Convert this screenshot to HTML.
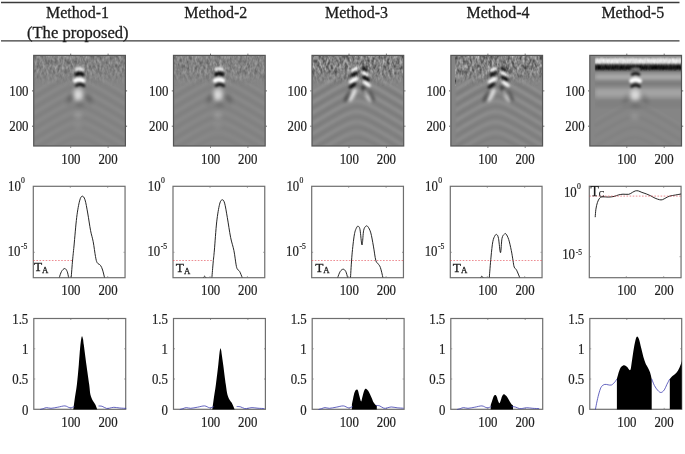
<!DOCTYPE html>
<html lang="en"><head><meta charset="utf-8"><title>Method comparison</title>
<style>
html,body{margin:0;padding:0;background:#fff}
body{width:685px;height:454px;overflow:hidden}
svg{display:block}
text{font-family:"Liberation Serif","Times New Roman",serif;fill:#1c1c1c;stroke:#1c1c1c;stroke-width:0.28px}
.h{font-size:15.8px;text-anchor:middle}
.t{font-size:14.2px;stroke-width:0.2px}
.m{text-anchor:middle}
.e{text-anchor:end}
</style></head><body>
<svg width="685" height="454" viewBox="0 0 685 454">
<defs>
<filter id="b0" filterUnits="userSpaceOnUse" x="0" y="40" width="685" height="120"><feGaussianBlur stdDeviation="0.8"/></filter>
<filter id="nz" x="0" y="0" width="100%" height="100%" color-interpolation-filters="sRGB"><feTurbulence type="fractalNoise" baseFrequency="0.4 0.2" numOctaves="2" seed="7" result="n"/><feColorMatrix type="matrix" values="1.1 0 0 0 -0.055  1.1 0 0 0 -0.055  1.1 0 0 0 -0.055  0 0 0 0 1"/><feGaussianBlur stdDeviation="0.45"/></filter>
<filter id="b15" filterUnits="userSpaceOnUse" x="0" y="40" width="685" height="120"><feGaussianBlur stdDeviation="1.5"/></filter>
<filter id="b1" filterUnits="userSpaceOnUse" x="0" y="40" width="685" height="120"><feGaussianBlur stdDeviation="1.1"/></filter>
<filter id="b2" filterUnits="userSpaceOnUse" x="0" y="40" width="685" height="120"><feGaussianBlur stdDeviation="2"/></filter>
<clipPath id="c0"><rect x="33.70" y="55.40" width="91.70" height="90.60"/></clipPath>
<clipPath id="d0"><rect x="33.30" y="186.30" width="91.75" height="91.40"/></clipPath>
<clipPath id="e0"><rect x="33.80" y="318.50" width="91.90" height="90.80"/></clipPath>
<clipPath id="c1"><rect x="173.50" y="55.40" width="91.70" height="90.60"/></clipPath>
<clipPath id="d1"><rect x="173.00" y="186.30" width="91.75" height="91.40"/></clipPath>
<clipPath id="e1"><rect x="173.50" y="318.50" width="91.90" height="90.80"/></clipPath>
<clipPath id="c2"><rect x="312.00" y="55.40" width="91.70" height="90.60"/></clipPath>
<clipPath id="d2"><rect x="311.70" y="186.30" width="91.75" height="91.40"/></clipPath>
<clipPath id="e2"><rect x="312.20" y="318.50" width="91.90" height="90.80"/></clipPath>
<clipPath id="c3"><rect x="450.85" y="55.40" width="91.70" height="90.60"/></clipPath>
<clipPath id="d3"><rect x="450.30" y="186.30" width="91.75" height="91.40"/></clipPath>
<clipPath id="e3"><rect x="450.80" y="318.50" width="91.90" height="90.80"/></clipPath>
<clipPath id="c4"><rect x="589.80" y="55.40" width="91.70" height="90.60"/></clipPath>
<clipPath id="d4"><rect x="589.30" y="186.30" width="91.75" height="91.40"/></clipPath>
<clipPath id="e4"><rect x="589.80" y="318.50" width="91.90" height="90.80"/></clipPath>
<linearGradient id="fd" gradientUnits="userSpaceOnUse" x1="0" y1="55.4" x2="0" y2="85.4"><stop offset="0" stop-color="#858585" stop-opacity="0"/><stop offset="0.45" stop-color="#858585" stop-opacity="0"/><stop offset="1" stop-color="#858585" stop-opacity="1"/></linearGradient>
<clipPath id="c5b"><rect x="594.8" y="55.4" width="86.7" height="90.6"/></clipPath>
</defs>
<rect width="685" height="454" fill="#fff"/>
<line x1="1" y1="2.5" x2="679.5" y2="2.5" stroke="#3a3a3a" stroke-width="1.4"/>
<line x1="1" y1="40.9" x2="679.5" y2="40.9" stroke="#3a3a3a" stroke-width="1.4"/>
<text x="77.5" y="17.6" class="h" textLength="62.9" lengthAdjust="spacingAndGlyphs">Method-1</text>
<text x="215.8" y="17.6" class="h" textLength="62.9" lengthAdjust="spacingAndGlyphs">Method-2</text>
<text x="356.5" y="17.6" class="h" textLength="62.9" lengthAdjust="spacingAndGlyphs">Method-3</text>
<text x="498.0" y="17.6" class="h" textLength="62.9" lengthAdjust="spacingAndGlyphs">Method-4</text>
<text x="632.9" y="17.6" class="h" textLength="62.9" lengthAdjust="spacingAndGlyphs">Method-5</text>
<text x="77.8" y="37.6" class="h" textLength="101.6" lengthAdjust="spacingAndGlyphs">(The proposed)</text>
<g clip-path="url(#c0)">
<rect x="33.7" y="55.4" width="91.7" height="90.6" fill="#858585"/>
<rect x="33.7" y="55.4" width="91.7" height="30" filter="url(#nz)" opacity="0.34"/>
<rect x="33.7" y="55.4" width="91.7" height="30.5" fill="url(#fd)"/>
<polyline points="33.7,92.4 36.0,91.0 38.3,89.6 40.6,88.3 42.9,86.9 45.2,85.5 47.5,84.2 49.7,82.8 52.0,81.5 54.3,80.1 56.6,78.8 58.9,77.5 61.2,76.3 63.5,75.1 65.8,73.9 68.1,72.8 70.4,71.8 72.7,71.0 75.0,70.4 77.3,70.0 79.6,70.0 81.8,70.3 84.1,70.9 86.4,71.8 88.7,72.7 91.0,73.8 93.3,75.0 95.6,76.2 97.9,77.4 100.2,78.7 102.5,80.0 104.8,81.4 107.1,82.7 109.4,84.0 111.6,85.4 113.9,86.8 116.2,88.1 118.5,89.5 120.8,90.9 123.1,92.3 125.4,93.7" fill="none" stroke="#fff" stroke-width="1.6" opacity="0.07" filter="url(#b0)"/>
<polyline points="33.7,97.6 36.0,96.2 38.3,94.8 40.6,93.5 42.9,92.1 45.2,90.7 47.5,89.4 49.7,88.0 52.0,86.7 54.3,85.3 56.6,84.0 58.9,82.7 61.2,81.5 63.5,80.3 65.8,79.1 68.1,78.0 70.4,77.0 72.7,76.2 75.0,75.6 77.3,75.2 79.6,75.2 81.8,75.5 84.1,76.1 86.4,77.0 88.7,77.9 91.0,79.0 93.3,80.2 95.6,81.4 97.9,82.6 100.2,83.9 102.5,85.2 104.8,86.6 107.1,87.9 109.4,89.2 111.6,90.6 113.9,92.0 116.2,93.3 118.5,94.7 120.8,96.1 123.1,97.5 125.4,98.9" fill="none" stroke="#000" stroke-width="1.6" opacity="0.06" filter="url(#b0)"/>
<polyline points="33.7,102.8 36.0,101.4 38.3,100.0 40.6,98.7 42.9,97.3 45.2,95.9 47.5,94.6 49.7,93.2 52.0,91.9 54.3,90.5 56.6,89.2 58.9,87.9 61.2,86.7 63.5,85.5 65.8,84.3 68.1,83.2 70.4,82.2 72.7,81.4 75.0,80.8 77.3,80.4 79.6,80.4 81.8,80.7 84.1,81.3 86.4,82.2 88.7,83.1 91.0,84.2 93.3,85.4 95.6,86.6 97.9,87.8 100.2,89.1 102.5,90.4 104.8,91.8 107.1,93.1 109.4,94.4 111.6,95.8 113.9,97.2 116.2,98.5 118.5,99.9 120.8,101.3 123.1,102.7 125.4,104.1" fill="none" stroke="#fff" stroke-width="1.6" opacity="0.06" filter="url(#b0)"/>
<polyline points="33.7,108.0 36.0,106.6 38.3,105.2 40.6,103.9 42.9,102.5 45.2,101.1 47.5,99.8 49.7,98.4 52.0,97.1 54.3,95.7 56.6,94.4 58.9,93.1 61.2,91.9 63.5,90.7 65.8,89.5 68.1,88.4 70.4,87.4 72.7,86.6 75.0,86.0 77.3,85.6 79.6,85.6 81.8,85.9 84.1,86.5 86.4,87.4 88.7,88.3 91.0,89.4 93.3,90.6 95.6,91.8 97.9,93.0 100.2,94.3 102.5,95.6 104.8,97.0 107.1,98.3 109.4,99.6 111.6,101.0 113.9,102.4 116.2,103.7 118.5,105.1 120.8,106.5 123.1,107.9 125.4,109.3" fill="none" stroke="#000" stroke-width="1.6" opacity="0.06" filter="url(#b0)"/>
<polyline points="33.7,113.2 36.0,111.8 38.3,110.4 40.6,109.1 42.9,107.7 45.2,106.3 47.5,105.0 49.7,103.6 52.0,102.3 54.3,100.9 56.6,99.6 58.9,98.3 61.2,97.1 63.5,95.9 65.8,94.7 68.1,93.6 70.4,92.6 72.7,91.8 75.0,91.2 77.3,90.8 79.6,90.8 81.8,91.1 84.1,91.7 86.4,92.6 88.7,93.5 91.0,94.6 93.3,95.8 95.6,97.0 97.9,98.2 100.2,99.5 102.5,100.8 104.8,102.2 107.1,103.5 109.4,104.8 111.6,106.2 113.9,107.6 116.2,108.9 118.5,110.3 120.8,111.7 123.1,113.1 125.4,114.5" fill="none" stroke="#fff" stroke-width="1.6" opacity="0.06" filter="url(#b0)"/>
<polyline points="33.7,118.4 36.0,117.0 38.3,115.6 40.6,114.3 42.9,112.9 45.2,111.5 47.5,110.2 49.7,108.8 52.0,107.5 54.3,106.1 56.6,104.8 58.9,103.5 61.2,102.3 63.5,101.1 65.8,99.9 68.1,98.8 70.4,97.8 72.7,97.0 75.0,96.4 77.3,96.0 79.6,96.0 81.8,96.3 84.1,96.9 86.4,97.8 88.7,98.7 91.0,99.8 93.3,101.0 95.6,102.2 97.9,103.4 100.2,104.7 102.5,106.0 104.8,107.4 107.1,108.7 109.4,110.0 111.6,111.4 113.9,112.8 116.2,114.1 118.5,115.5 120.8,116.9 123.1,118.3 125.4,119.7" fill="none" stroke="#000" stroke-width="1.6" opacity="0.06" filter="url(#b0)"/>
<polyline points="33.7,123.6 36.0,122.2 38.3,120.8 40.6,119.5 42.9,118.1 45.2,116.7 47.5,115.4 49.7,114.0 52.0,112.7 54.3,111.3 56.6,110.0 58.9,108.7 61.2,107.5 63.5,106.3 65.8,105.1 68.1,104.0 70.4,103.0 72.7,102.2 75.0,101.6 77.3,101.2 79.6,101.2 81.8,101.5 84.1,102.1 86.4,103.0 88.7,103.9 91.0,105.0 93.3,106.2 95.6,107.4 97.9,108.6 100.2,109.9 102.5,111.2 104.8,112.6 107.1,113.9 109.4,115.2 111.6,116.6 113.9,118.0 116.2,119.3 118.5,120.7 120.8,122.1 123.1,123.5 125.4,124.9" fill="none" stroke="#fff" stroke-width="1.6" opacity="0.05" filter="url(#b0)"/>
<polyline points="33.7,128.8 36.0,127.4 38.3,126.0 40.6,124.7 42.9,123.3 45.2,121.9 47.5,120.6 49.7,119.2 52.0,117.9 54.3,116.5 56.6,115.2 58.9,113.9 61.2,112.7 63.5,111.5 65.8,110.3 68.1,109.2 70.4,108.2 72.7,107.4 75.0,106.8 77.3,106.4 79.6,106.4 81.8,106.7 84.1,107.3 86.4,108.2 88.7,109.1 91.0,110.2 93.3,111.4 95.6,112.6 97.9,113.8 100.2,115.1 102.5,116.4 104.8,117.8 107.1,119.1 109.4,120.4 111.6,121.8 113.9,123.2 116.2,124.5 118.5,125.9 120.8,127.3 123.1,128.7 125.4,130.1" fill="none" stroke="#000" stroke-width="1.6" opacity="0.05" filter="url(#b0)"/>
<polyline points="33.7,134.0 36.0,132.6 38.3,131.2 40.6,129.9 42.9,128.5 45.2,127.1 47.5,125.8 49.7,124.4 52.0,123.1 54.3,121.7 56.6,120.4 58.9,119.1 61.2,117.9 63.5,116.7 65.8,115.5 68.1,114.4 70.4,113.4 72.7,112.6 75.0,112.0 77.3,111.6 79.6,111.6 81.8,111.9 84.1,112.5 86.4,113.4 88.7,114.3 91.0,115.4 93.3,116.6 95.6,117.8 97.9,119.0 100.2,120.3 102.5,121.6 104.8,123.0 107.1,124.3 109.4,125.6 111.6,127.0 113.9,128.4 116.2,129.7 118.5,131.1 120.8,132.5 123.1,133.9 125.4,135.3" fill="none" stroke="#fff" stroke-width="1.6" opacity="0.05" filter="url(#b0)"/>
<polyline points="33.7,139.2 36.0,137.8 38.3,136.4 40.6,135.1 42.9,133.7 45.2,132.3 47.5,131.0 49.7,129.6 52.0,128.3 54.3,126.9 56.6,125.6 58.9,124.3 61.2,123.1 63.5,121.9 65.8,120.7 68.1,119.6 70.4,118.6 72.7,117.8 75.0,117.2 77.3,116.8 79.6,116.8 81.8,117.1 84.1,117.7 86.4,118.6 88.7,119.5 91.0,120.6 93.3,121.8 95.6,123.0 97.9,124.2 100.2,125.5 102.5,126.8 104.8,128.2 107.1,129.5 109.4,130.8 111.6,132.2 113.9,133.6 116.2,134.9 118.5,136.3 120.8,137.7 123.1,139.1 125.4,140.5" fill="none" stroke="#000" stroke-width="1.6" opacity="0.05" filter="url(#b0)"/>
<polyline points="33.7,144.4 36.0,143.0 38.3,141.6 40.6,140.3 42.9,138.9 45.2,137.5 47.5,136.2 49.7,134.8 52.0,133.5 54.3,132.1 56.6,130.8 58.9,129.5 61.2,128.3 63.5,127.1 65.8,125.9 68.1,124.8 70.4,123.8 72.7,123.0 75.0,122.4 77.3,122.0 79.6,122.0 81.8,122.3 84.1,122.9 86.4,123.8 88.7,124.7 91.0,125.8 93.3,127.0 95.6,128.2 97.9,129.4 100.2,130.7 102.5,132.0 104.8,133.4 107.1,134.7 109.4,136.0 111.6,137.4 113.9,138.8 116.2,140.1 118.5,141.5 120.8,142.9 123.1,144.3 125.4,145.7" fill="none" stroke="#fff" stroke-width="1.6" opacity="0.05" filter="url(#b0)"/>
<polyline points="33.7,149.6 36.0,148.2 38.3,146.8 40.6,145.5 42.9,144.1 45.2,142.7 47.5,141.4 49.7,140.0 52.0,138.7 54.3,137.3 56.6,136.0 58.9,134.7 61.2,133.5 63.5,132.3 65.8,131.1 68.1,130.0 70.4,129.0 72.7,128.2 75.0,127.6 77.3,127.2 79.6,127.2 81.8,127.5 84.1,128.1 86.4,129.0 88.7,129.9 91.0,131.0 93.3,132.2 95.6,133.4 97.9,134.6 100.2,135.9 102.5,137.2 104.8,138.6 107.1,139.9 109.4,141.2 111.6,142.6 113.9,144.0 116.2,145.3 118.5,146.7 120.8,148.1 123.1,149.5 125.4,150.9" fill="none" stroke="#000" stroke-width="1.6" opacity="0.04" filter="url(#b0)"/>
<polyline points="33.7,154.8 36.0,153.4 38.3,152.0 40.6,150.7 42.9,149.3 45.2,147.9 47.5,146.6 49.7,145.2 52.0,143.9 54.3,142.5 56.6,141.2 58.9,139.9 61.2,138.7 63.5,137.5 65.8,136.3 68.1,135.2 70.4,134.2 72.7,133.4 75.0,132.8 77.3,132.4 79.6,132.4 81.8,132.7 84.1,133.3 86.4,134.2 88.7,135.1 91.0,136.2 93.3,137.4 95.6,138.6 97.9,139.8 100.2,141.1 102.5,142.4 104.8,143.8 107.1,145.1 109.4,146.4 111.6,147.8 113.9,149.2 116.2,150.5 118.5,151.9 120.8,153.3 123.1,154.7 125.4,156.1" fill="none" stroke="#fff" stroke-width="1.6" opacity="0.04" filter="url(#b0)"/>
<polyline points="33.7,160.0 36.0,158.6 38.3,157.2 40.6,155.9 42.9,154.5 45.2,153.1 47.5,151.8 49.7,150.4 52.0,149.1 54.3,147.7 56.6,146.4 58.9,145.1 61.2,143.9 63.5,142.7 65.8,141.5 68.1,140.4 70.4,139.4 72.7,138.6 75.0,138.0 77.3,137.6 79.6,137.6 81.8,137.9 84.1,138.5 86.4,139.4 88.7,140.3 91.0,141.4 93.3,142.6 95.6,143.8 97.9,145.0 100.2,146.3 102.5,147.6 104.8,149.0 107.1,150.3 109.4,151.6 111.6,153.0 113.9,154.4 116.2,155.7 118.5,157.1 120.8,158.5 123.1,159.9 125.4,161.3" fill="none" stroke="#000" stroke-width="1.6" opacity="0.04" filter="url(#b0)"/>
<path d="M76.3 69.5 Q79.5 67.6 82.7 69.5" fill="none" stroke="#fff" stroke-width="3.0" stroke-linecap="round" opacity="0.85" filter="url(#b1)"/>
<path d="M76.1 74.6 Q79.5 72.5 82.9 74.6" fill="none" stroke="#000" stroke-width="3.0" stroke-linecap="round" opacity="1.00" filter="url(#b1)"/>
<path d="M75.2 80.6 Q79.2 78.0 83.2 80.6" fill="none" stroke="#fff" stroke-width="4.2" stroke-linecap="round" opacity="1.00" filter="url(#b1)"/>
<path d="M76.3 85.8 Q80.1 83.2 83.9 85.8" fill="none" stroke="#000" stroke-width="2.8" stroke-linecap="round" opacity="0.85" filter="url(#b1)"/>
<ellipse cx="78.3" cy="89.8" rx="4.0" ry="2.5" fill="#fff" opacity="0.30" filter="url(#b2)"/>
<ellipse cx="78.1" cy="95.2" rx="5.0" ry="5.4" fill="#fff" opacity="0.70" filter="url(#b2)"/>
<ellipse cx="70.0" cy="98.8" rx="2.0" ry="5.5" transform="rotate(25 70.0 98.8)" fill="#000" opacity="0.28" filter="url(#b2)"/>
<ellipse cx="89.0" cy="98.8" rx="2.0" ry="5.5" transform="rotate(-25 89.0 98.8)" fill="#000" opacity="0.28" filter="url(#b2)"/>
<ellipse cx="80.0" cy="104.6" rx="4.5" ry="2.0" fill="#000" opacity="0.20" filter="url(#b2)"/>
<ellipse cx="78.1" cy="115.3" rx="4.0" ry="2.6" fill="#fff" opacity="0.22" filter="url(#b2)"/>
<ellipse cx="77.9" cy="125.8" rx="3.5" ry="2.2" fill="#fff" opacity="0.10" filter="url(#b2)"/>
</g>
<rect x="33.70" y="55.40" width="91.70" height="90.60" fill="none" stroke="#555" stroke-width="1.2"/>
<path d="M70.7 54.8v-1.1M70.7 146.6v1.1" stroke="#444" stroke-width="0.9"/>
<path d="M108.1 54.8v-1.1M108.1 146.6v1.1" stroke="#444" stroke-width="0.9"/>
<path d="M33.1 90.9h-1.1M126.0 90.9h1.1" stroke="#444" stroke-width="0.9"/>
<path d="M33.1 126.2h-1.1M126.0 126.2h1.1" stroke="#444" stroke-width="0.9"/>
<text transform="translate(28.5 95.5) scale(0.905 1)" class="t e">100</text>
<text transform="translate(28.5 131.0) scale(0.905 1)" class="t e">200</text>
<text transform="translate(70.9 164.0) scale(0.905 1)" class="t m">100</text>
<text transform="translate(108.0 164.0) scale(0.905 1)" class="t m">200</text>
<g clip-path="url(#c1)">
<rect x="173.5" y="55.4" width="91.7" height="90.6" fill="#858585"/>
<rect x="173.5" y="55.4" width="91.7" height="30" filter="url(#nz)" opacity="0.34"/>
<rect x="173.5" y="55.4" width="91.7" height="30.5" fill="url(#fd)"/>
<polyline points="173.5,92.4 175.8,91.0 178.1,89.6 180.4,88.3 182.7,86.9 185.0,85.5 187.3,84.2 189.5,82.8 191.8,81.5 194.1,80.1 196.4,78.8 198.7,77.5 201.0,76.3 203.3,75.1 205.6,73.9 207.9,72.8 210.2,71.8 212.5,71.0 214.8,70.4 217.1,70.0 219.3,70.0 221.6,70.3 223.9,70.9 226.2,71.8 228.5,72.7 230.8,73.8 233.1,75.0 235.4,76.2 237.7,77.4 240.0,78.7 242.3,80.0 244.6,81.4 246.9,82.7 249.2,84.0 251.4,85.4 253.7,86.8 256.0,88.1 258.3,89.5 260.6,90.9 262.9,92.3 265.2,93.7" fill="none" stroke="#fff" stroke-width="1.6" opacity="0.07" filter="url(#b0)"/>
<polyline points="173.5,97.6 175.8,96.2 178.1,94.8 180.4,93.5 182.7,92.1 185.0,90.7 187.3,89.4 189.5,88.0 191.8,86.7 194.1,85.3 196.4,84.0 198.7,82.7 201.0,81.5 203.3,80.3 205.6,79.1 207.9,78.0 210.2,77.0 212.5,76.2 214.8,75.6 217.1,75.2 219.3,75.2 221.6,75.5 223.9,76.1 226.2,77.0 228.5,77.9 230.8,79.0 233.1,80.2 235.4,81.4 237.7,82.6 240.0,83.9 242.3,85.2 244.6,86.6 246.9,87.9 249.2,89.2 251.4,90.6 253.7,92.0 256.0,93.3 258.3,94.7 260.6,96.1 262.9,97.5 265.2,98.9" fill="none" stroke="#000" stroke-width="1.6" opacity="0.06" filter="url(#b0)"/>
<polyline points="173.5,102.8 175.8,101.4 178.1,100.0 180.4,98.7 182.7,97.3 185.0,95.9 187.3,94.6 189.5,93.2 191.8,91.9 194.1,90.5 196.4,89.2 198.7,87.9 201.0,86.7 203.3,85.5 205.6,84.3 207.9,83.2 210.2,82.2 212.5,81.4 214.8,80.8 217.1,80.4 219.3,80.4 221.6,80.7 223.9,81.3 226.2,82.2 228.5,83.1 230.8,84.2 233.1,85.4 235.4,86.6 237.7,87.8 240.0,89.1 242.3,90.4 244.6,91.8 246.9,93.1 249.2,94.4 251.4,95.8 253.7,97.2 256.0,98.5 258.3,99.9 260.6,101.3 262.9,102.7 265.2,104.1" fill="none" stroke="#fff" stroke-width="1.6" opacity="0.06" filter="url(#b0)"/>
<polyline points="173.5,108.0 175.8,106.6 178.1,105.2 180.4,103.9 182.7,102.5 185.0,101.1 187.3,99.8 189.5,98.4 191.8,97.1 194.1,95.7 196.4,94.4 198.7,93.1 201.0,91.9 203.3,90.7 205.6,89.5 207.9,88.4 210.2,87.4 212.5,86.6 214.8,86.0 217.1,85.6 219.3,85.6 221.6,85.9 223.9,86.5 226.2,87.4 228.5,88.3 230.8,89.4 233.1,90.6 235.4,91.8 237.7,93.0 240.0,94.3 242.3,95.6 244.6,97.0 246.9,98.3 249.2,99.6 251.4,101.0 253.7,102.4 256.0,103.7 258.3,105.1 260.6,106.5 262.9,107.9 265.2,109.3" fill="none" stroke="#000" stroke-width="1.6" opacity="0.06" filter="url(#b0)"/>
<polyline points="173.5,113.2 175.8,111.8 178.1,110.4 180.4,109.1 182.7,107.7 185.0,106.3 187.3,105.0 189.5,103.6 191.8,102.3 194.1,100.9 196.4,99.6 198.7,98.3 201.0,97.1 203.3,95.9 205.6,94.7 207.9,93.6 210.2,92.6 212.5,91.8 214.8,91.2 217.1,90.8 219.3,90.8 221.6,91.1 223.9,91.7 226.2,92.6 228.5,93.5 230.8,94.6 233.1,95.8 235.4,97.0 237.7,98.2 240.0,99.5 242.3,100.8 244.6,102.2 246.9,103.5 249.2,104.8 251.4,106.2 253.7,107.6 256.0,108.9 258.3,110.3 260.6,111.7 262.9,113.1 265.2,114.5" fill="none" stroke="#fff" stroke-width="1.6" opacity="0.06" filter="url(#b0)"/>
<polyline points="173.5,118.4 175.8,117.0 178.1,115.6 180.4,114.3 182.7,112.9 185.0,111.5 187.3,110.2 189.5,108.8 191.8,107.5 194.1,106.1 196.4,104.8 198.7,103.5 201.0,102.3 203.3,101.1 205.6,99.9 207.9,98.8 210.2,97.8 212.5,97.0 214.8,96.4 217.1,96.0 219.3,96.0 221.6,96.3 223.9,96.9 226.2,97.8 228.5,98.7 230.8,99.8 233.1,101.0 235.4,102.2 237.7,103.4 240.0,104.7 242.3,106.0 244.6,107.4 246.9,108.7 249.2,110.0 251.4,111.4 253.7,112.8 256.0,114.1 258.3,115.5 260.6,116.9 262.9,118.3 265.2,119.7" fill="none" stroke="#000" stroke-width="1.6" opacity="0.06" filter="url(#b0)"/>
<polyline points="173.5,123.6 175.8,122.2 178.1,120.8 180.4,119.5 182.7,118.1 185.0,116.7 187.3,115.4 189.5,114.0 191.8,112.7 194.1,111.3 196.4,110.0 198.7,108.7 201.0,107.5 203.3,106.3 205.6,105.1 207.9,104.0 210.2,103.0 212.5,102.2 214.8,101.6 217.1,101.2 219.3,101.2 221.6,101.5 223.9,102.1 226.2,103.0 228.5,103.9 230.8,105.0 233.1,106.2 235.4,107.4 237.7,108.6 240.0,109.9 242.3,111.2 244.6,112.6 246.9,113.9 249.2,115.2 251.4,116.6 253.7,118.0 256.0,119.3 258.3,120.7 260.6,122.1 262.9,123.5 265.2,124.9" fill="none" stroke="#fff" stroke-width="1.6" opacity="0.05" filter="url(#b0)"/>
<polyline points="173.5,128.8 175.8,127.4 178.1,126.0 180.4,124.7 182.7,123.3 185.0,121.9 187.3,120.6 189.5,119.2 191.8,117.9 194.1,116.5 196.4,115.2 198.7,113.9 201.0,112.7 203.3,111.5 205.6,110.3 207.9,109.2 210.2,108.2 212.5,107.4 214.8,106.8 217.1,106.4 219.3,106.4 221.6,106.7 223.9,107.3 226.2,108.2 228.5,109.1 230.8,110.2 233.1,111.4 235.4,112.6 237.7,113.8 240.0,115.1 242.3,116.4 244.6,117.8 246.9,119.1 249.2,120.4 251.4,121.8 253.7,123.2 256.0,124.5 258.3,125.9 260.6,127.3 262.9,128.7 265.2,130.1" fill="none" stroke="#000" stroke-width="1.6" opacity="0.05" filter="url(#b0)"/>
<polyline points="173.5,134.0 175.8,132.6 178.1,131.2 180.4,129.9 182.7,128.5 185.0,127.1 187.3,125.8 189.5,124.4 191.8,123.1 194.1,121.7 196.4,120.4 198.7,119.1 201.0,117.9 203.3,116.7 205.6,115.5 207.9,114.4 210.2,113.4 212.5,112.6 214.8,112.0 217.1,111.6 219.3,111.6 221.6,111.9 223.9,112.5 226.2,113.4 228.5,114.3 230.8,115.4 233.1,116.6 235.4,117.8 237.7,119.0 240.0,120.3 242.3,121.6 244.6,123.0 246.9,124.3 249.2,125.6 251.4,127.0 253.7,128.4 256.0,129.7 258.3,131.1 260.6,132.5 262.9,133.9 265.2,135.3" fill="none" stroke="#fff" stroke-width="1.6" opacity="0.05" filter="url(#b0)"/>
<polyline points="173.5,139.2 175.8,137.8 178.1,136.4 180.4,135.1 182.7,133.7 185.0,132.3 187.3,131.0 189.5,129.6 191.8,128.3 194.1,126.9 196.4,125.6 198.7,124.3 201.0,123.1 203.3,121.9 205.6,120.7 207.9,119.6 210.2,118.6 212.5,117.8 214.8,117.2 217.1,116.8 219.3,116.8 221.6,117.1 223.9,117.7 226.2,118.6 228.5,119.5 230.8,120.6 233.1,121.8 235.4,123.0 237.7,124.2 240.0,125.5 242.3,126.8 244.6,128.2 246.9,129.5 249.2,130.8 251.4,132.2 253.7,133.6 256.0,134.9 258.3,136.3 260.6,137.7 262.9,139.1 265.2,140.5" fill="none" stroke="#000" stroke-width="1.6" opacity="0.05" filter="url(#b0)"/>
<polyline points="173.5,144.4 175.8,143.0 178.1,141.6 180.4,140.3 182.7,138.9 185.0,137.5 187.3,136.2 189.5,134.8 191.8,133.5 194.1,132.1 196.4,130.8 198.7,129.5 201.0,128.3 203.3,127.1 205.6,125.9 207.9,124.8 210.2,123.8 212.5,123.0 214.8,122.4 217.1,122.0 219.3,122.0 221.6,122.3 223.9,122.9 226.2,123.8 228.5,124.7 230.8,125.8 233.1,127.0 235.4,128.2 237.7,129.4 240.0,130.7 242.3,132.0 244.6,133.4 246.9,134.7 249.2,136.0 251.4,137.4 253.7,138.8 256.0,140.1 258.3,141.5 260.6,142.9 262.9,144.3 265.2,145.7" fill="none" stroke="#fff" stroke-width="1.6" opacity="0.05" filter="url(#b0)"/>
<polyline points="173.5,149.6 175.8,148.2 178.1,146.8 180.4,145.5 182.7,144.1 185.0,142.7 187.3,141.4 189.5,140.0 191.8,138.7 194.1,137.3 196.4,136.0 198.7,134.7 201.0,133.5 203.3,132.3 205.6,131.1 207.9,130.0 210.2,129.0 212.5,128.2 214.8,127.6 217.1,127.2 219.3,127.2 221.6,127.5 223.9,128.1 226.2,129.0 228.5,129.9 230.8,131.0 233.1,132.2 235.4,133.4 237.7,134.6 240.0,135.9 242.3,137.2 244.6,138.6 246.9,139.9 249.2,141.2 251.4,142.6 253.7,144.0 256.0,145.3 258.3,146.7 260.6,148.1 262.9,149.5 265.2,150.9" fill="none" stroke="#000" stroke-width="1.6" opacity="0.04" filter="url(#b0)"/>
<polyline points="173.5,154.8 175.8,153.4 178.1,152.0 180.4,150.7 182.7,149.3 185.0,147.9 187.3,146.6 189.5,145.2 191.8,143.9 194.1,142.5 196.4,141.2 198.7,139.9 201.0,138.7 203.3,137.5 205.6,136.3 207.9,135.2 210.2,134.2 212.5,133.4 214.8,132.8 217.1,132.4 219.3,132.4 221.6,132.7 223.9,133.3 226.2,134.2 228.5,135.1 230.8,136.2 233.1,137.4 235.4,138.6 237.7,139.8 240.0,141.1 242.3,142.4 244.6,143.8 246.9,145.1 249.2,146.4 251.4,147.8 253.7,149.2 256.0,150.5 258.3,151.9 260.6,153.3 262.9,154.7 265.2,156.1" fill="none" stroke="#fff" stroke-width="1.6" opacity="0.04" filter="url(#b0)"/>
<polyline points="173.5,160.0 175.8,158.6 178.1,157.2 180.4,155.9 182.7,154.5 185.0,153.1 187.3,151.8 189.5,150.4 191.8,149.1 194.1,147.7 196.4,146.4 198.7,145.1 201.0,143.9 203.3,142.7 205.6,141.5 207.9,140.4 210.2,139.4 212.5,138.6 214.8,138.0 217.1,137.6 219.3,137.6 221.6,137.9 223.9,138.5 226.2,139.4 228.5,140.3 230.8,141.4 233.1,142.6 235.4,143.8 237.7,145.0 240.0,146.3 242.3,147.6 244.6,149.0 246.9,150.3 249.2,151.6 251.4,153.0 253.7,154.4 256.0,155.7 258.3,157.1 260.6,158.5 262.9,159.9 265.2,161.3" fill="none" stroke="#000" stroke-width="1.6" opacity="0.04" filter="url(#b0)"/>
<path d="M216.1 69.5 Q219.3 67.6 222.5 69.5" fill="none" stroke="#fff" stroke-width="3.0" stroke-linecap="round" opacity="0.85" filter="url(#b1)"/>
<path d="M215.9 74.6 Q219.3 72.5 222.7 74.6" fill="none" stroke="#000" stroke-width="3.0" stroke-linecap="round" opacity="1.00" filter="url(#b1)"/>
<path d="M215.0 80.6 Q219.0 78.0 223.0 80.6" fill="none" stroke="#fff" stroke-width="4.2" stroke-linecap="round" opacity="1.00" filter="url(#b1)"/>
<path d="M216.1 85.8 Q219.9 83.2 223.7 85.8" fill="none" stroke="#000" stroke-width="2.8" stroke-linecap="round" opacity="0.85" filter="url(#b1)"/>
<ellipse cx="218.1" cy="89.8" rx="4.0" ry="2.5" fill="#fff" opacity="0.30" filter="url(#b2)"/>
<ellipse cx="217.9" cy="95.2" rx="5.0" ry="5.4" fill="#fff" opacity="0.70" filter="url(#b2)"/>
<ellipse cx="209.8" cy="98.8" rx="2.0" ry="5.5" transform="rotate(25 209.8 98.8)" fill="#000" opacity="0.28" filter="url(#b2)"/>
<ellipse cx="228.8" cy="98.8" rx="2.0" ry="5.5" transform="rotate(-25 228.8 98.8)" fill="#000" opacity="0.28" filter="url(#b2)"/>
<ellipse cx="219.8" cy="104.6" rx="4.5" ry="2.0" fill="#000" opacity="0.20" filter="url(#b2)"/>
<ellipse cx="217.9" cy="115.3" rx="4.0" ry="2.6" fill="#fff" opacity="0.22" filter="url(#b2)"/>
<ellipse cx="217.7" cy="125.8" rx="3.5" ry="2.2" fill="#fff" opacity="0.10" filter="url(#b2)"/>
</g>
<rect x="173.50" y="55.40" width="91.70" height="90.60" fill="none" stroke="#555" stroke-width="1.2"/>
<path d="M210.5 54.8v-1.1M210.5 146.6v1.1" stroke="#444" stroke-width="0.9"/>
<path d="M247.9 54.8v-1.1M247.9 146.6v1.1" stroke="#444" stroke-width="0.9"/>
<path d="M172.9 90.9h-1.1M265.8 90.9h1.1" stroke="#444" stroke-width="0.9"/>
<path d="M172.9 126.2h-1.1M265.8 126.2h1.1" stroke="#444" stroke-width="0.9"/>
<text transform="translate(168.3 95.5) scale(0.905 1)" class="t e">100</text>
<text transform="translate(168.3 131.0) scale(0.905 1)" class="t e">200</text>
<text transform="translate(210.6 164.0) scale(0.905 1)" class="t m">100</text>
<text transform="translate(247.7 164.0) scale(0.905 1)" class="t m">200</text>
<g clip-path="url(#c2)">
<rect x="312.0" y="55.4" width="91.7" height="90.6" fill="#858585"/>
<rect x="312.0" y="55.4" width="91.7" height="30" filter="url(#nz)" opacity="0.62"/>
<rect x="312.0" y="55.4" width="91.7" height="30.5" fill="url(#fd)"/>
<polyline points="312.0,92.4 314.3,91.0 316.6,89.6 318.9,88.3 321.2,86.9 323.5,85.5 325.8,84.2 328.0,82.8 330.3,81.5 332.6,80.1 334.9,78.8 337.2,77.5 339.5,76.3 341.8,75.1 344.1,73.9 346.4,72.8 348.7,71.8 351.0,71.0 353.3,70.4 355.6,70.0 357.9,70.0 360.1,70.3 362.4,70.9 364.7,71.8 367.0,72.7 369.3,73.8 371.6,75.0 373.9,76.2 376.2,77.4 378.5,78.7 380.8,80.0 383.1,81.4 385.4,82.7 387.7,84.0 389.9,85.4 392.2,86.8 394.5,88.1 396.8,89.5 399.1,90.9 401.4,92.3 403.7,93.7" fill="none" stroke="#fff" stroke-width="1.6" opacity="0.13" filter="url(#b0)"/>
<polyline points="312.0,97.6 314.3,96.2 316.6,94.8 318.9,93.5 321.2,92.1 323.5,90.7 325.8,89.4 328.0,88.0 330.3,86.7 332.6,85.3 334.9,84.0 337.2,82.7 339.5,81.5 341.8,80.3 344.1,79.1 346.4,78.0 348.7,77.0 351.0,76.2 353.3,75.6 355.6,75.2 357.9,75.2 360.1,75.5 362.4,76.1 364.7,77.0 367.0,77.9 369.3,79.0 371.6,80.2 373.9,81.4 376.2,82.6 378.5,83.9 380.8,85.2 383.1,86.6 385.4,87.9 387.7,89.2 389.9,90.6 392.2,92.0 394.5,93.3 396.8,94.7 399.1,96.1 401.4,97.5 403.7,98.9" fill="none" stroke="#000" stroke-width="1.6" opacity="0.13" filter="url(#b0)"/>
<polyline points="312.0,102.8 314.3,101.4 316.6,100.0 318.9,98.7 321.2,97.3 323.5,95.9 325.8,94.6 328.0,93.2 330.3,91.9 332.6,90.5 334.9,89.2 337.2,87.9 339.5,86.7 341.8,85.5 344.1,84.3 346.4,83.2 348.7,82.2 351.0,81.4 353.3,80.8 355.6,80.4 357.9,80.4 360.1,80.7 362.4,81.3 364.7,82.2 367.0,83.1 369.3,84.2 371.6,85.4 373.9,86.6 376.2,87.8 378.5,89.1 380.8,90.4 383.1,91.8 385.4,93.1 387.7,94.4 389.9,95.8 392.2,97.2 394.5,98.5 396.8,99.9 399.1,101.3 401.4,102.7 403.7,104.1" fill="none" stroke="#fff" stroke-width="1.6" opacity="0.12" filter="url(#b0)"/>
<polyline points="312.0,108.0 314.3,106.6 316.6,105.2 318.9,103.9 321.2,102.5 323.5,101.1 325.8,99.8 328.0,98.4 330.3,97.1 332.6,95.7 334.9,94.4 337.2,93.1 339.5,91.9 341.8,90.7 344.1,89.5 346.4,88.4 348.7,87.4 351.0,86.6 353.3,86.0 355.6,85.6 357.9,85.6 360.1,85.9 362.4,86.5 364.7,87.4 367.0,88.3 369.3,89.4 371.6,90.6 373.9,91.8 376.2,93.0 378.5,94.3 380.8,95.6 383.1,97.0 385.4,98.3 387.7,99.6 389.9,101.0 392.2,102.4 394.5,103.7 396.8,105.1 399.1,106.5 401.4,107.9 403.7,109.3" fill="none" stroke="#000" stroke-width="1.6" opacity="0.12" filter="url(#b0)"/>
<polyline points="312.0,113.2 314.3,111.8 316.6,110.4 318.9,109.1 321.2,107.7 323.5,106.3 325.8,105.0 328.0,103.6 330.3,102.3 332.6,100.9 334.9,99.6 337.2,98.3 339.5,97.1 341.8,95.9 344.1,94.7 346.4,93.6 348.7,92.6 351.0,91.8 353.3,91.2 355.6,90.8 357.9,90.8 360.1,91.1 362.4,91.7 364.7,92.6 367.0,93.5 369.3,94.6 371.6,95.8 373.9,97.0 376.2,98.2 378.5,99.5 380.8,100.8 383.1,102.2 385.4,103.5 387.7,104.8 389.9,106.2 392.2,107.6 394.5,108.9 396.8,110.3 399.1,111.7 401.4,113.1 403.7,114.5" fill="none" stroke="#fff" stroke-width="1.6" opacity="0.11" filter="url(#b0)"/>
<polyline points="312.0,118.4 314.3,117.0 316.6,115.6 318.9,114.3 321.2,112.9 323.5,111.5 325.8,110.2 328.0,108.8 330.3,107.5 332.6,106.1 334.9,104.8 337.2,103.5 339.5,102.3 341.8,101.1 344.1,99.9 346.4,98.8 348.7,97.8 351.0,97.0 353.3,96.4 355.6,96.0 357.9,96.0 360.1,96.3 362.4,96.9 364.7,97.8 367.0,98.7 369.3,99.8 371.6,101.0 373.9,102.2 376.2,103.4 378.5,104.7 380.8,106.0 383.1,107.4 385.4,108.7 387.7,110.0 389.9,111.4 392.2,112.8 394.5,114.1 396.8,115.5 399.1,116.9 401.4,118.3 403.7,119.7" fill="none" stroke="#000" stroke-width="1.6" opacity="0.11" filter="url(#b0)"/>
<polyline points="312.0,123.6 314.3,122.2 316.6,120.8 318.9,119.5 321.2,118.1 323.5,116.7 325.8,115.4 328.0,114.0 330.3,112.7 332.6,111.3 334.9,110.0 337.2,108.7 339.5,107.5 341.8,106.3 344.1,105.1 346.4,104.0 348.7,103.0 351.0,102.2 353.3,101.6 355.6,101.2 357.9,101.2 360.1,101.5 362.4,102.1 364.7,103.0 367.0,103.9 369.3,105.0 371.6,106.2 373.9,107.4 376.2,108.6 378.5,109.9 380.8,111.2 383.1,112.6 385.4,113.9 387.7,115.2 389.9,116.6 392.2,118.0 394.5,119.3 396.8,120.7 399.1,122.1 401.4,123.5 403.7,124.9" fill="none" stroke="#fff" stroke-width="1.6" opacity="0.11" filter="url(#b0)"/>
<polyline points="312.0,128.8 314.3,127.4 316.6,126.0 318.9,124.7 321.2,123.3 323.5,121.9 325.8,120.6 328.0,119.2 330.3,117.9 332.6,116.5 334.9,115.2 337.2,113.9 339.5,112.7 341.8,111.5 344.1,110.3 346.4,109.2 348.7,108.2 351.0,107.4 353.3,106.8 355.6,106.4 357.9,106.4 360.1,106.7 362.4,107.3 364.7,108.2 367.0,109.1 369.3,110.2 371.6,111.4 373.9,112.6 376.2,113.8 378.5,115.1 380.8,116.4 383.1,117.8 385.4,119.1 387.7,120.4 389.9,121.8 392.2,123.2 394.5,124.5 396.8,125.9 399.1,127.3 401.4,128.7 403.7,130.1" fill="none" stroke="#000" stroke-width="1.6" opacity="0.10" filter="url(#b0)"/>
<polyline points="312.0,134.0 314.3,132.6 316.6,131.2 318.9,129.9 321.2,128.5 323.5,127.1 325.8,125.8 328.0,124.4 330.3,123.1 332.6,121.7 334.9,120.4 337.2,119.1 339.5,117.9 341.8,116.7 344.1,115.5 346.4,114.4 348.7,113.4 351.0,112.6 353.3,112.0 355.6,111.6 357.9,111.6 360.1,111.9 362.4,112.5 364.7,113.4 367.0,114.3 369.3,115.4 371.6,116.6 373.9,117.8 376.2,119.0 378.5,120.3 380.8,121.6 383.1,123.0 385.4,124.3 387.7,125.6 389.9,127.0 392.2,128.4 394.5,129.7 396.8,131.1 399.1,132.5 401.4,133.9 403.7,135.3" fill="none" stroke="#fff" stroke-width="1.6" opacity="0.10" filter="url(#b0)"/>
<polyline points="312.0,139.2 314.3,137.8 316.6,136.4 318.9,135.1 321.2,133.7 323.5,132.3 325.8,131.0 328.0,129.6 330.3,128.3 332.6,126.9 334.9,125.6 337.2,124.3 339.5,123.1 341.8,121.9 344.1,120.7 346.4,119.6 348.7,118.6 351.0,117.8 353.3,117.2 355.6,116.8 357.9,116.8 360.1,117.1 362.4,117.7 364.7,118.6 367.0,119.5 369.3,120.6 371.6,121.8 373.9,123.0 376.2,124.2 378.5,125.5 380.8,126.8 383.1,128.2 385.4,129.5 387.7,130.8 389.9,132.2 392.2,133.6 394.5,134.9 396.8,136.3 399.1,137.7 401.4,139.1 403.7,140.5" fill="none" stroke="#000" stroke-width="1.6" opacity="0.09" filter="url(#b0)"/>
<polyline points="312.0,144.4 314.3,143.0 316.6,141.6 318.9,140.3 321.2,138.9 323.5,137.5 325.8,136.2 328.0,134.8 330.3,133.5 332.6,132.1 334.9,130.8 337.2,129.5 339.5,128.3 341.8,127.1 344.1,125.9 346.4,124.8 348.7,123.8 351.0,123.0 353.3,122.4 355.6,122.0 357.9,122.0 360.1,122.3 362.4,122.9 364.7,123.8 367.0,124.7 369.3,125.8 371.6,127.0 373.9,128.2 376.2,129.4 378.5,130.7 380.8,132.0 383.1,133.4 385.4,134.7 387.7,136.0 389.9,137.4 392.2,138.8 394.5,140.1 396.8,141.5 399.1,142.9 401.4,144.3 403.7,145.7" fill="none" stroke="#fff" stroke-width="1.6" opacity="0.09" filter="url(#b0)"/>
<polyline points="312.0,149.6 314.3,148.2 316.6,146.8 318.9,145.5 321.2,144.1 323.5,142.7 325.8,141.4 328.0,140.0 330.3,138.7 332.6,137.3 334.9,136.0 337.2,134.7 339.5,133.5 341.8,132.3 344.1,131.1 346.4,130.0 348.7,129.0 351.0,128.2 353.3,127.6 355.6,127.2 357.9,127.2 360.1,127.5 362.4,128.1 364.7,129.0 367.0,129.9 369.3,131.0 371.6,132.2 373.9,133.4 376.2,134.6 378.5,135.9 380.8,137.2 383.1,138.6 385.4,139.9 387.7,141.2 389.9,142.6 392.2,144.0 394.5,145.3 396.8,146.7 399.1,148.1 401.4,149.5 403.7,150.9" fill="none" stroke="#000" stroke-width="1.6" opacity="0.09" filter="url(#b0)"/>
<polyline points="312.0,154.8 314.3,153.4 316.6,152.0 318.9,150.7 321.2,149.3 323.5,147.9 325.8,146.6 328.0,145.2 330.3,143.9 332.6,142.5 334.9,141.2 337.2,139.9 339.5,138.7 341.8,137.5 344.1,136.3 346.4,135.2 348.7,134.2 351.0,133.4 353.3,132.8 355.6,132.4 357.9,132.4 360.1,132.7 362.4,133.3 364.7,134.2 367.0,135.1 369.3,136.2 371.6,137.4 373.9,138.6 376.2,139.8 378.5,141.1 380.8,142.4 383.1,143.8 385.4,145.1 387.7,146.4 389.9,147.8 392.2,149.2 394.5,150.5 396.8,151.9 399.1,153.3 401.4,154.7 403.7,156.1" fill="none" stroke="#fff" stroke-width="1.6" opacity="0.08" filter="url(#b0)"/>
<polyline points="312.0,160.0 314.3,158.6 316.6,157.2 318.9,155.9 321.2,154.5 323.5,153.1 325.8,151.8 328.0,150.4 330.3,149.1 332.6,147.7 334.9,146.4 337.2,145.1 339.5,143.9 341.8,142.7 344.1,141.5 346.4,140.4 348.7,139.4 351.0,138.6 353.3,138.0 355.6,137.6 357.9,137.6 360.1,137.9 362.4,138.5 364.7,139.4 367.0,140.3 369.3,141.4 371.6,142.6 373.9,143.8 376.2,145.0 378.5,146.3 380.8,147.6 383.1,149.0 385.4,150.3 387.7,151.6 389.9,153.0 392.2,154.4 394.5,155.7 396.8,157.1 399.1,158.5 401.4,159.9 403.7,161.3" fill="none" stroke="#000" stroke-width="1.6" opacity="0.08" filter="url(#b0)"/>
<ellipse cx="354.6" cy="69.2" rx="4.2" ry="1.6" transform="rotate(-28 354.6 69.2)" fill="#fff" opacity="1.00" filter="url(#b1)"/>
<ellipse cx="354.4" cy="74.0" rx="4.4" ry="1.7" transform="rotate(-28 354.4 74.0)" fill="#000" opacity="1.00" filter="url(#b1)"/>
<ellipse cx="353.6" cy="80.2" rx="5.2" ry="2.1" transform="rotate(-30 353.6 80.2)" fill="#fff" opacity="1.00" filter="url(#b1)"/>
<ellipse cx="352.6" cy="85.6" rx="4.6" ry="1.8" transform="rotate(-35 352.6 85.6)" fill="#000" opacity="0.90" filter="url(#b1)"/>
<ellipse cx="352.6" cy="95.0" rx="7.5" ry="2.6" transform="rotate(-62 352.6 95.0)" fill="#fff" opacity="0.75" filter="url(#b15)"/>
<ellipse cx="347.4" cy="96.2" rx="7.0" ry="2.0" transform="rotate(-62 347.4 96.2)" fill="#000" opacity="0.40" filter="url(#b15)"/>
<ellipse cx="364.6" cy="69.2" rx="4.0" ry="1.6" transform="rotate(28 364.6 69.2)" fill="#000" opacity="0.90" filter="url(#b1)"/>
<ellipse cx="364.8" cy="73.8" rx="4.4" ry="1.7" transform="rotate(28 364.8 73.8)" fill="#fff" opacity="1.00" filter="url(#b1)"/>
<ellipse cx="365.8" cy="78.5" rx="4.6" ry="1.7" transform="rotate(30 365.8 78.5)" fill="#000" opacity="1.00" filter="url(#b1)"/>
<ellipse cx="366.8" cy="83.8" rx="4.8" ry="1.9" transform="rotate(35 366.8 83.8)" fill="#fff" opacity="1.00" filter="url(#b1)"/>
<ellipse cx="364.6" cy="90.6" rx="6.0" ry="2.0" transform="rotate(62 364.6 90.6)" fill="#000" opacity="0.70" filter="url(#b15)"/>
<ellipse cx="367.4" cy="95.8" rx="7.5" ry="2.4" transform="rotate(62 367.4 95.8)" fill="#fff" opacity="0.55" filter="url(#b15)"/>
<ellipse cx="371.6" cy="95.6" rx="6.5" ry="2.0" transform="rotate(62 371.6 95.6)" fill="#000" opacity="0.38" filter="url(#b15)"/>
</g>
<rect x="312.00" y="55.40" width="91.70" height="90.60" fill="none" stroke="#555" stroke-width="1.2"/>
<path d="M349.0 54.8v-1.1M349.0 146.6v1.1" stroke="#444" stroke-width="0.9"/>
<path d="M386.4 54.8v-1.1M386.4 146.6v1.1" stroke="#444" stroke-width="0.9"/>
<path d="M311.4 90.9h-1.1M404.3 90.9h1.1" stroke="#444" stroke-width="0.9"/>
<path d="M311.4 126.2h-1.1M404.3 126.2h1.1" stroke="#444" stroke-width="0.9"/>
<text transform="translate(306.8 95.5) scale(0.905 1)" class="t e">100</text>
<text transform="translate(306.8 131.0) scale(0.905 1)" class="t e">200</text>
<text transform="translate(349.3 164.0) scale(0.905 1)" class="t m">100</text>
<text transform="translate(386.4 164.0) scale(0.905 1)" class="t m">200</text>
<g clip-path="url(#c3)">
<rect x="450.9" y="55.4" width="91.7" height="90.6" fill="#858585"/>
<rect x="455.9" y="55.4" width="86.7" height="30" filter="url(#nz)" opacity="0.62"/>
<rect x="455.9" y="55.4" width="86.7" height="30.5" fill="url(#fd)"/>
<polyline points="455.9,89.4 458.0,88.1 460.2,86.8 462.4,85.5 464.5,84.2 466.7,82.9 468.9,81.7 471.0,80.4 473.2,79.2 475.4,77.9 477.5,76.7 479.7,75.6 481.9,74.4 484.0,73.4 486.2,72.4 488.4,71.5 490.5,70.8 492.7,70.3 494.9,70.0 497.0,70.1 499.2,70.4 501.4,71.0 503.5,71.7 505.7,72.7 507.9,73.7 510.0,74.8 512.2,75.9 514.4,77.1 516.5,78.3 518.7,79.5 520.9,80.8 523.0,82.0 525.2,83.3 527.4,84.6 529.5,85.9 531.7,87.1 533.9,88.5 536.0,89.8 538.2,91.1 540.4,92.4 542.6,93.7" fill="none" stroke="#fff" stroke-width="1.6" opacity="0.13" filter="url(#b0)"/>
<polyline points="455.9,94.6 458.0,93.3 460.2,92.0 462.4,90.7 464.5,89.4 466.7,88.1 468.9,86.9 471.0,85.6 473.2,84.4 475.4,83.1 477.5,81.9 479.7,80.8 481.9,79.6 484.0,78.6 486.2,77.6 488.4,76.7 490.5,76.0 492.7,75.5 494.9,75.2 497.0,75.3 499.2,75.6 501.4,76.2 503.5,76.9 505.7,77.9 507.9,78.9 510.0,80.0 512.2,81.1 514.4,82.3 516.5,83.5 518.7,84.7 520.9,86.0 523.0,87.2 525.2,88.5 527.4,89.8 529.5,91.1 531.7,92.3 533.9,93.7 536.0,95.0 538.2,96.3 540.4,97.6 542.6,98.9" fill="none" stroke="#000" stroke-width="1.6" opacity="0.13" filter="url(#b0)"/>
<polyline points="455.9,99.8 458.0,98.5 460.2,97.2 462.4,95.9 464.5,94.6 466.7,93.3 468.9,92.1 471.0,90.8 473.2,89.6 475.4,88.3 477.5,87.1 479.7,86.0 481.9,84.8 484.0,83.8 486.2,82.8 488.4,81.9 490.5,81.2 492.7,80.7 494.9,80.4 497.0,80.5 499.2,80.8 501.4,81.4 503.5,82.1 505.7,83.1 507.9,84.1 510.0,85.2 512.2,86.3 514.4,87.5 516.5,88.7 518.7,89.9 520.9,91.2 523.0,92.4 525.2,93.7 527.4,95.0 529.5,96.3 531.7,97.5 533.9,98.9 536.0,100.2 538.2,101.5 540.4,102.8 542.6,104.1" fill="none" stroke="#fff" stroke-width="1.6" opacity="0.12" filter="url(#b0)"/>
<polyline points="455.9,105.0 458.0,103.7 460.2,102.4 462.4,101.1 464.5,99.8 466.7,98.5 468.9,97.3 471.0,96.0 473.2,94.8 475.4,93.5 477.5,92.3 479.7,91.2 481.9,90.0 484.0,89.0 486.2,88.0 488.4,87.1 490.5,86.4 492.7,85.9 494.9,85.6 497.0,85.7 499.2,86.0 501.4,86.6 503.5,87.3 505.7,88.3 507.9,89.3 510.0,90.4 512.2,91.5 514.4,92.7 516.5,93.9 518.7,95.1 520.9,96.4 523.0,97.6 525.2,98.9 527.4,100.2 529.5,101.5 531.7,102.7 533.9,104.1 536.0,105.4 538.2,106.7 540.4,108.0 542.6,109.3" fill="none" stroke="#000" stroke-width="1.6" opacity="0.12" filter="url(#b0)"/>
<polyline points="455.9,110.2 458.0,108.9 460.2,107.6 462.4,106.3 464.5,105.0 466.7,103.7 468.9,102.5 471.0,101.2 473.2,100.0 475.4,98.7 477.5,97.5 479.7,96.4 481.9,95.2 484.0,94.2 486.2,93.2 488.4,92.3 490.5,91.6 492.7,91.1 494.9,90.8 497.0,90.9 499.2,91.2 501.4,91.8 503.5,92.5 505.7,93.5 507.9,94.5 510.0,95.6 512.2,96.7 514.4,97.9 516.5,99.1 518.7,100.3 520.9,101.6 523.0,102.8 525.2,104.1 527.4,105.4 529.5,106.7 531.7,107.9 533.9,109.3 536.0,110.6 538.2,111.9 540.4,113.2 542.6,114.5" fill="none" stroke="#fff" stroke-width="1.6" opacity="0.11" filter="url(#b0)"/>
<polyline points="455.9,115.4 458.0,114.1 460.2,112.8 462.4,111.5 464.5,110.2 466.7,108.9 468.9,107.7 471.0,106.4 473.2,105.2 475.4,103.9 477.5,102.7 479.7,101.6 481.9,100.4 484.0,99.4 486.2,98.4 488.4,97.5 490.5,96.8 492.7,96.3 494.9,96.0 497.0,96.1 499.2,96.4 501.4,97.0 503.5,97.7 505.7,98.7 507.9,99.7 510.0,100.8 512.2,101.9 514.4,103.1 516.5,104.3 518.7,105.5 520.9,106.8 523.0,108.0 525.2,109.3 527.4,110.6 529.5,111.9 531.7,113.1 533.9,114.5 536.0,115.8 538.2,117.1 540.4,118.4 542.6,119.7" fill="none" stroke="#000" stroke-width="1.6" opacity="0.11" filter="url(#b0)"/>
<polyline points="455.9,120.6 458.0,119.3 460.2,118.0 462.4,116.7 464.5,115.4 466.7,114.1 468.9,112.9 471.0,111.6 473.2,110.4 475.4,109.1 477.5,107.9 479.7,106.8 481.9,105.6 484.0,104.6 486.2,103.6 488.4,102.7 490.5,102.0 492.7,101.5 494.9,101.2 497.0,101.3 499.2,101.6 501.4,102.2 503.5,102.9 505.7,103.9 507.9,104.9 510.0,106.0 512.2,107.1 514.4,108.3 516.5,109.5 518.7,110.7 520.9,112.0 523.0,113.2 525.2,114.5 527.4,115.8 529.5,117.1 531.7,118.3 533.9,119.7 536.0,121.0 538.2,122.3 540.4,123.6 542.6,124.9" fill="none" stroke="#fff" stroke-width="1.6" opacity="0.11" filter="url(#b0)"/>
<polyline points="455.9,125.8 458.0,124.5 460.2,123.2 462.4,121.9 464.5,120.6 466.7,119.3 468.9,118.1 471.0,116.8 473.2,115.6 475.4,114.3 477.5,113.1 479.7,112.0 481.9,110.8 484.0,109.8 486.2,108.8 488.4,107.9 490.5,107.2 492.7,106.7 494.9,106.4 497.0,106.5 499.2,106.8 501.4,107.4 503.5,108.1 505.7,109.1 507.9,110.1 510.0,111.2 512.2,112.3 514.4,113.5 516.5,114.7 518.7,115.9 520.9,117.2 523.0,118.4 525.2,119.7 527.4,121.0 529.5,122.3 531.7,123.5 533.9,124.9 536.0,126.2 538.2,127.5 540.4,128.8 542.6,130.1" fill="none" stroke="#000" stroke-width="1.6" opacity="0.10" filter="url(#b0)"/>
<polyline points="455.9,131.0 458.0,129.7 460.2,128.4 462.4,127.1 464.5,125.8 466.7,124.5 468.9,123.3 471.0,122.0 473.2,120.8 475.4,119.5 477.5,118.3 479.7,117.2 481.9,116.0 484.0,115.0 486.2,114.0 488.4,113.1 490.5,112.4 492.7,111.9 494.9,111.6 497.0,111.7 499.2,112.0 501.4,112.6 503.5,113.3 505.7,114.3 507.9,115.3 510.0,116.4 512.2,117.5 514.4,118.7 516.5,119.9 518.7,121.1 520.9,122.4 523.0,123.6 525.2,124.9 527.4,126.2 529.5,127.5 531.7,128.7 533.9,130.1 536.0,131.4 538.2,132.7 540.4,134.0 542.6,135.3" fill="none" stroke="#fff" stroke-width="1.6" opacity="0.10" filter="url(#b0)"/>
<polyline points="455.9,136.2 458.0,134.9 460.2,133.6 462.4,132.3 464.5,131.0 466.7,129.7 468.9,128.5 471.0,127.2 473.2,126.0 475.4,124.7 477.5,123.5 479.7,122.4 481.9,121.2 484.0,120.2 486.2,119.2 488.4,118.3 490.5,117.6 492.7,117.1 494.9,116.8 497.0,116.9 499.2,117.2 501.4,117.8 503.5,118.5 505.7,119.5 507.9,120.5 510.0,121.6 512.2,122.7 514.4,123.9 516.5,125.1 518.7,126.3 520.9,127.6 523.0,128.8 525.2,130.1 527.4,131.4 529.5,132.7 531.7,133.9 533.9,135.3 536.0,136.6 538.2,137.9 540.4,139.2 542.6,140.5" fill="none" stroke="#000" stroke-width="1.6" opacity="0.09" filter="url(#b0)"/>
<polyline points="455.9,141.4 458.0,140.1 460.2,138.8 462.4,137.5 464.5,136.2 466.7,134.9 468.9,133.7 471.0,132.4 473.2,131.2 475.4,129.9 477.5,128.7 479.7,127.6 481.9,126.4 484.0,125.4 486.2,124.4 488.4,123.5 490.5,122.8 492.7,122.3 494.9,122.0 497.0,122.1 499.2,122.4 501.4,123.0 503.5,123.7 505.7,124.7 507.9,125.7 510.0,126.8 512.2,127.9 514.4,129.1 516.5,130.3 518.7,131.5 520.9,132.8 523.0,134.0 525.2,135.3 527.4,136.6 529.5,137.9 531.7,139.1 533.9,140.5 536.0,141.8 538.2,143.1 540.4,144.4 542.6,145.7" fill="none" stroke="#fff" stroke-width="1.6" opacity="0.09" filter="url(#b0)"/>
<polyline points="455.9,146.6 458.0,145.3 460.2,144.0 462.4,142.7 464.5,141.4 466.7,140.1 468.9,138.9 471.0,137.6 473.2,136.4 475.4,135.1 477.5,133.9 479.7,132.8 481.9,131.6 484.0,130.6 486.2,129.6 488.4,128.7 490.5,128.0 492.7,127.5 494.9,127.2 497.0,127.3 499.2,127.6 501.4,128.2 503.5,128.9 505.7,129.9 507.9,130.9 510.0,132.0 512.2,133.1 514.4,134.3 516.5,135.5 518.7,136.7 520.9,138.0 523.0,139.2 525.2,140.5 527.4,141.8 529.5,143.1 531.7,144.3 533.9,145.7 536.0,147.0 538.2,148.3 540.4,149.6 542.6,150.9" fill="none" stroke="#000" stroke-width="1.6" opacity="0.09" filter="url(#b0)"/>
<polyline points="455.9,151.8 458.0,150.5 460.2,149.2 462.4,147.9 464.5,146.6 466.7,145.3 468.9,144.1 471.0,142.8 473.2,141.6 475.4,140.3 477.5,139.1 479.7,138.0 481.9,136.8 484.0,135.8 486.2,134.8 488.4,133.9 490.5,133.2 492.7,132.7 494.9,132.4 497.0,132.5 499.2,132.8 501.4,133.4 503.5,134.1 505.7,135.1 507.9,136.1 510.0,137.2 512.2,138.3 514.4,139.5 516.5,140.7 518.7,141.9 520.9,143.2 523.0,144.4 525.2,145.7 527.4,147.0 529.5,148.3 531.7,149.5 533.9,150.9 536.0,152.2 538.2,153.5 540.4,154.8 542.6,156.1" fill="none" stroke="#fff" stroke-width="1.6" opacity="0.08" filter="url(#b0)"/>
<polyline points="455.9,157.0 458.0,155.7 460.2,154.4 462.4,153.1 464.5,151.8 466.7,150.5 468.9,149.3 471.0,148.0 473.2,146.8 475.4,145.5 477.5,144.3 479.7,143.2 481.9,142.0 484.0,141.0 486.2,140.0 488.4,139.1 490.5,138.4 492.7,137.9 494.9,137.6 497.0,137.7 499.2,138.0 501.4,138.6 503.5,139.3 505.7,140.3 507.9,141.3 510.0,142.4 512.2,143.5 514.4,144.7 516.5,145.9 518.7,147.1 520.9,148.4 523.0,149.6 525.2,150.9 527.4,152.2 529.5,153.5 531.7,154.7 533.9,156.1 536.0,157.4 538.2,158.7 540.4,160.0 542.6,161.3" fill="none" stroke="#000" stroke-width="1.6" opacity="0.08" filter="url(#b0)"/>
<ellipse cx="493.5" cy="69.2" rx="4.2" ry="1.6" transform="rotate(-28 493.5 69.2)" fill="#fff" opacity="0.95" filter="url(#b1)"/>
<ellipse cx="493.2" cy="74.0" rx="4.4" ry="1.7" transform="rotate(-28 493.2 74.0)" fill="#000" opacity="0.95" filter="url(#b1)"/>
<ellipse cx="492.5" cy="80.2" rx="5.2" ry="2.1" transform="rotate(-30 492.5 80.2)" fill="#fff" opacity="0.95" filter="url(#b1)"/>
<ellipse cx="491.5" cy="85.6" rx="4.6" ry="1.8" transform="rotate(-35 491.5 85.6)" fill="#000" opacity="0.85" filter="url(#b1)"/>
<ellipse cx="491.5" cy="95.0" rx="7.5" ry="2.6" transform="rotate(-62 491.5 95.0)" fill="#fff" opacity="0.71" filter="url(#b15)"/>
<ellipse cx="486.2" cy="96.2" rx="7.0" ry="2.0" transform="rotate(-62 486.2 96.2)" fill="#000" opacity="0.38" filter="url(#b15)"/>
<ellipse cx="503.5" cy="69.2" rx="4.0" ry="1.6" transform="rotate(28 503.5 69.2)" fill="#000" opacity="0.85" filter="url(#b1)"/>
<ellipse cx="503.7" cy="73.8" rx="4.4" ry="1.7" transform="rotate(28 503.7 73.8)" fill="#fff" opacity="0.95" filter="url(#b1)"/>
<ellipse cx="504.7" cy="78.5" rx="4.6" ry="1.7" transform="rotate(30 504.7 78.5)" fill="#000" opacity="0.95" filter="url(#b1)"/>
<ellipse cx="505.7" cy="83.8" rx="4.8" ry="1.9" transform="rotate(35 505.7 83.8)" fill="#fff" opacity="0.95" filter="url(#b1)"/>
<ellipse cx="503.5" cy="90.6" rx="6.0" ry="2.0" transform="rotate(62 503.5 90.6)" fill="#000" opacity="0.66" filter="url(#b15)"/>
<ellipse cx="506.2" cy="95.8" rx="7.5" ry="2.4" transform="rotate(62 506.2 95.8)" fill="#fff" opacity="0.52" filter="url(#b15)"/>
<ellipse cx="510.5" cy="95.6" rx="6.5" ry="2.0" transform="rotate(62 510.5 95.6)" fill="#000" opacity="0.36" filter="url(#b15)"/>
</g>
<rect x="450.85" y="55.40" width="91.70" height="90.60" fill="none" stroke="#555" stroke-width="1.2"/>
<path d="M487.9 54.8v-1.1M487.9 146.6v1.1" stroke="#444" stroke-width="0.9"/>
<path d="M525.2 54.8v-1.1M525.2 146.6v1.1" stroke="#444" stroke-width="0.9"/>
<path d="M450.2 90.9h-1.1M543.2 90.9h1.1" stroke="#444" stroke-width="0.9"/>
<path d="M450.2 126.2h-1.1M543.2 126.2h1.1" stroke="#444" stroke-width="0.9"/>
<text transform="translate(445.7 95.5) scale(0.905 1)" class="t e">100</text>
<text transform="translate(445.7 131.0) scale(0.905 1)" class="t e">200</text>
<text transform="translate(487.9 164.0) scale(0.905 1)" class="t m">100</text>
<text transform="translate(525.0 164.0) scale(0.905 1)" class="t m">200</text>
<g clip-path="url(#c4)">
<rect x="589.8" y="55.4" width="91.7" height="90.6" fill="#858585"/>
<polyline points="594.8,120.6 597.0,119.3 599.1,118.0 601.3,116.7 603.5,115.4 605.6,114.1 607.8,112.9 610.0,111.6 612.1,110.4 614.3,109.1 616.5,107.9 618.6,106.8 620.8,105.6 623.0,104.6 625.1,103.6 627.3,102.7 629.5,102.0 631.6,101.5 633.8,101.2 636.0,101.3 638.1,101.6 640.3,102.2 642.5,102.9 644.7,103.9 646.8,104.9 649.0,106.0 651.2,107.1 653.3,108.3 655.5,109.5 657.7,110.7 659.8,112.0 662.0,113.2 664.2,114.5 666.3,115.8 668.5,117.1 670.7,118.3 672.8,119.7 675.0,121.0 677.2,122.3 679.3,123.6 681.5,124.9" fill="none" stroke="#fff" stroke-width="1.6" opacity="0.04" filter="url(#b0)"/>
<polyline points="594.8,125.8 597.0,124.5 599.1,123.2 601.3,121.9 603.5,120.6 605.6,119.3 607.8,118.1 610.0,116.8 612.1,115.6 614.3,114.3 616.5,113.1 618.6,112.0 620.8,110.8 623.0,109.8 625.1,108.8 627.3,107.9 629.5,107.2 631.6,106.7 633.8,106.4 636.0,106.5 638.1,106.8 640.3,107.4 642.5,108.1 644.7,109.1 646.8,110.1 649.0,111.2 651.2,112.3 653.3,113.5 655.5,114.7 657.7,115.9 659.8,117.2 662.0,118.4 664.2,119.7 666.3,121.0 668.5,122.3 670.7,123.5 672.8,124.9 675.0,126.2 677.2,127.5 679.3,128.8 681.5,130.1" fill="none" stroke="#000" stroke-width="1.6" opacity="0.04" filter="url(#b0)"/>
<polyline points="594.8,131.0 597.0,129.7 599.1,128.4 601.3,127.1 603.5,125.8 605.6,124.5 607.8,123.3 610.0,122.0 612.1,120.8 614.3,119.5 616.5,118.3 618.6,117.2 620.8,116.0 623.0,115.0 625.1,114.0 627.3,113.1 629.5,112.4 631.6,111.9 633.8,111.6 636.0,111.7 638.1,112.0 640.3,112.6 642.5,113.3 644.7,114.3 646.8,115.3 649.0,116.4 651.2,117.5 653.3,118.7 655.5,119.9 657.7,121.1 659.8,122.4 662.0,123.6 664.2,124.9 666.3,126.2 668.5,127.5 670.7,128.7 672.8,130.1 675.0,131.4 677.2,132.7 679.3,134.0 681.5,135.3" fill="none" stroke="#fff" stroke-width="1.6" opacity="0.03" filter="url(#b0)"/>
<polyline points="594.8,136.2 597.0,134.9 599.1,133.6 601.3,132.3 603.5,131.0 605.6,129.7 607.8,128.5 610.0,127.2 612.1,126.0 614.3,124.7 616.5,123.5 618.6,122.4 620.8,121.2 623.0,120.2 625.1,119.2 627.3,118.3 629.5,117.6 631.6,117.1 633.8,116.8 636.0,116.9 638.1,117.2 640.3,117.8 642.5,118.5 644.7,119.5 646.8,120.5 649.0,121.6 651.2,122.7 653.3,123.9 655.5,125.1 657.7,126.3 659.8,127.6 662.0,128.8 664.2,130.1 666.3,131.4 668.5,132.7 670.7,133.9 672.8,135.3 675.0,136.6 677.2,137.9 679.3,139.2 681.5,140.5" fill="none" stroke="#000" stroke-width="1.6" opacity="0.03" filter="url(#b0)"/>
<polyline points="594.8,141.4 597.0,140.1 599.1,138.8 601.3,137.5 603.5,136.2 605.6,134.9 607.8,133.7 610.0,132.4 612.1,131.2 614.3,129.9 616.5,128.7 618.6,127.6 620.8,126.4 623.0,125.4 625.1,124.4 627.3,123.5 629.5,122.8 631.6,122.3 633.8,122.0 636.0,122.1 638.1,122.4 640.3,123.0 642.5,123.7 644.7,124.7 646.8,125.7 649.0,126.8 651.2,127.9 653.3,129.1 655.5,130.3 657.7,131.5 659.8,132.8 662.0,134.0 664.2,135.3 666.3,136.6 668.5,137.9 670.7,139.1 672.8,140.5 675.0,141.8 677.2,143.1 679.3,144.4 681.5,145.7" fill="none" stroke="#fff" stroke-width="1.6" opacity="0.03" filter="url(#b0)"/>
<polyline points="594.8,146.6 597.0,145.3 599.1,144.0 601.3,142.7 603.5,141.4 605.6,140.1 607.8,138.9 610.0,137.6 612.1,136.4 614.3,135.1 616.5,133.9 618.6,132.8 620.8,131.6 623.0,130.6 625.1,129.6 627.3,128.7 629.5,128.0 631.6,127.5 633.8,127.2 636.0,127.3 638.1,127.6 640.3,128.2 642.5,128.9 644.7,129.9 646.8,130.9 649.0,132.0 651.2,133.1 653.3,134.3 655.5,135.5 657.7,136.7 659.8,138.0 662.0,139.2 664.2,140.5 666.3,141.8 668.5,143.1 670.7,144.3 672.8,145.7 675.0,147.0 677.2,148.3 679.3,149.6 681.5,150.9" fill="none" stroke="#000" stroke-width="1.6" opacity="0.03" filter="url(#b0)"/>
<polyline points="594.8,151.8 597.0,150.5 599.1,149.2 601.3,147.9 603.5,146.6 605.6,145.3 607.8,144.1 610.0,142.8 612.1,141.6 614.3,140.3 616.5,139.1 618.6,138.0 620.8,136.8 623.0,135.8 625.1,134.8 627.3,133.9 629.5,133.2 631.6,132.7 633.8,132.4 636.0,132.5 638.1,132.8 640.3,133.4 642.5,134.1 644.7,135.1 646.8,136.1 649.0,137.2 651.2,138.3 653.3,139.5 655.5,140.7 657.7,141.9 659.8,143.2 662.0,144.4 664.2,145.7 666.3,147.0 668.5,148.3 670.7,149.5 672.8,150.9 675.0,152.2 677.2,153.5 679.3,154.8 681.5,156.1" fill="none" stroke="#fff" stroke-width="1.6" opacity="0.03" filter="url(#b0)"/>
<polyline points="594.8,157.0 597.0,155.7 599.1,154.4 601.3,153.1 603.5,151.8 605.6,150.5 607.8,149.3 610.0,148.0 612.1,146.8 614.3,145.5 616.5,144.3 618.6,143.2 620.8,142.0 623.0,141.0 625.1,140.0 627.3,139.1 629.5,138.4 631.6,137.9 633.8,137.6 636.0,137.7 638.1,138.0 640.3,138.6 642.5,139.3 644.7,140.3 646.8,141.3 649.0,142.4 651.2,143.5 653.3,144.7 655.5,145.9 657.7,147.1 659.8,148.4 662.0,149.6 664.2,150.9 666.3,152.2 668.5,153.5 670.7,154.7 672.8,156.1 675.0,157.4 677.2,158.7 679.3,160.0 681.5,161.3" fill="none" stroke="#000" stroke-width="1.6" opacity="0.03" filter="url(#b0)"/>
<g clip-path="url(#c5b)">
<rect x="594.8" y="58.0" width="92.7" height="5.8" fill="#fff" opacity="0.95" filter="url(#b1)"/>
<rect x="594.8" y="64.8" width="92.7" height="5.4" fill="#000" opacity="1.00" filter="url(#b1)"/>
<rect x="594.8" y="74.7" width="92.7" height="4.6" fill="#fff" opacity="0.40" filter="url(#b2)"/>
<rect x="594.8" y="81.5" width="92.7" height="3.0" fill="#000" opacity="0.12" filter="url(#b2)"/>
<rect x="594.8" y="88.3" width="92.7" height="9.0" fill="#fff" opacity="0.26" filter="url(#b2)"/>
<rect x="594.8" y="102.0" width="92.7" height="4.0" fill="#000" opacity="0.06" filter="url(#b2)"/>
<rect x="594.8" y="57" width="86.7" height="14" filter="url(#nz)" opacity="0.16"/>
</g>
<ellipse cx="635.6" cy="69.2" rx="5.0" ry="1.6" fill="#858585" opacity="0.90" filter="url(#b1)"/>
<path d="M632.2 74.4 Q635.6 72.3 639.0 74.4" fill="none" stroke="#000" stroke-width="2.8" stroke-linecap="round" opacity="0.85" filter="url(#b1)"/>
<path d="M631.4 80.8 Q635.6 78.2 639.8 80.8" fill="none" stroke="#fff" stroke-width="4.4" stroke-linecap="round" opacity="1.00" filter="url(#b1)"/>
<path d="M631.8 86.4 Q635.6 83.8 639.4 86.4" fill="none" stroke="#000" stroke-width="2.8" stroke-linecap="round" opacity="0.90" filter="url(#b1)"/>
<ellipse cx="635.2" cy="90.5" rx="4.0" ry="2.5" fill="#fff" opacity="0.30" filter="url(#b2)"/>
<ellipse cx="635.2" cy="95.8" rx="4.8" ry="5.0" fill="#fff" opacity="0.62" filter="url(#b2)"/>
<ellipse cx="626.1" cy="99.0" rx="2.0" ry="5.5" transform="rotate(25 626.1 99.0)" fill="#000" opacity="0.18" filter="url(#b2)"/>
<ellipse cx="645.1" cy="99.0" rx="2.0" ry="5.5" transform="rotate(-25 645.1 99.0)" fill="#000" opacity="0.18" filter="url(#b2)"/>
<ellipse cx="635.6" cy="105.4" rx="4.5" ry="2.0" fill="#000" opacity="0.14" filter="url(#b2)"/>
<ellipse cx="634.6" cy="116.4" rx="4.0" ry="2.6" fill="#fff" opacity="0.17" filter="url(#b2)"/>
</g>
<rect x="589.80" y="55.40" width="91.70" height="90.60" fill="none" stroke="#555" stroke-width="1.2"/>
<path d="M626.8 54.8v-1.1M626.8 146.6v1.1" stroke="#444" stroke-width="0.9"/>
<path d="M664.2 54.8v-1.1M664.2 146.6v1.1" stroke="#444" stroke-width="0.9"/>
<path d="M589.2 90.9h-1.1M682.1 90.9h1.1" stroke="#444" stroke-width="0.9"/>
<path d="M589.2 126.2h-1.1M682.1 126.2h1.1" stroke="#444" stroke-width="0.9"/>
<text transform="translate(584.6 95.5) scale(0.905 1)" class="t e">100</text>
<text transform="translate(584.6 131.0) scale(0.905 1)" class="t e">200</text>
<text transform="translate(626.9 164.0) scale(0.905 1)" class="t m">100</text>
<text transform="translate(664.0 164.0) scale(0.905 1)" class="t m">200</text>
<rect x="33.30" y="186.30" width="91.75" height="91.40" fill="#fff" stroke="#6e6e6e" stroke-width="1.2"/>
<g clip-path="url(#d0)">
<path d="M71.20 277.50 C71.43 274.58 72.13 265.25 72.60 260.00 C73.07 254.75 73.32 253.10 74.00 246.00 C74.68 238.90 75.77 224.92 76.70 217.40 C77.63 209.88 78.68 204.43 79.60 200.90 C80.52 197.37 81.30 196.38 82.20 196.20 C83.10 196.02 84.08 197.00 85.00 199.80 C85.92 202.60 86.77 207.85 87.70 213.00 C88.63 218.15 89.68 225.92 90.60 230.70 C91.52 235.48 92.38 237.38 93.20 241.70 C94.02 246.02 94.83 253.10 95.50 256.60 C96.17 260.10 96.37 261.23 97.20 262.70 C98.03 264.17 99.60 264.18 100.50 265.40 C101.40 266.62 101.93 267.98 102.60 270.00 C103.27 272.02 104.18 276.25 104.50 277.50" fill="none" stroke="#1a1a1a" stroke-width="0.95" stroke-linejoin="round"/>
<path d="M59.30 277.50 C59.67 276.50 60.60 273.00 61.50 271.50 C62.40 270.00 63.75 268.50 64.70 268.50 C65.65 268.50 66.55 270.00 67.20 271.50 C67.85 273.00 68.37 276.50 68.60 277.50" fill="none" stroke="#1a1a1a" stroke-width="0.95"/>
</g>
<line x1="33.3" y1="260.5" x2="72.4" y2="260.5" stroke="#e2404a" stroke-width="0.85" stroke-dasharray="1.6 1.5" opacity="0.7"/>
<text transform="translate(33.9 271.0) scale(1.04 1)" class="t" style="font-size:12.9px;stroke-width:0.25px">T<tspan dy="1.9" dx="-0.1" font-size="8.4">A</tspan></text>
<path d="M70.3 186.8v0.9M70.3 277.2v-0.9" stroke="#6e6e6e" stroke-width="0.8"/>
<path d="M107.7 186.8v0.9M107.7 277.2v-0.9" stroke="#6e6e6e" stroke-width="0.8"/>
<path d="M33.8 252.3h0.9M124.5 252.3h-0.9" stroke="#6e6e6e" stroke-width="0.8"/>
<text transform="translate(8.0 191.1) scale(0.905 1)" class="t">10<tspan dy="-8.5" dx="0.3" font-size="8.5">0</tspan></text>
<text transform="translate(7.7 256.3) scale(0.905 1)" class="t">10<tspan dy="-6.9" dx="0.5" font-size="8.5">-5</tspan></text>
<text transform="translate(70.9 295.0) scale(0.905 1)" class="t m">100</text>
<text transform="translate(108.0 295.0) scale(0.905 1)" class="t m">200</text>
<rect x="173.00" y="186.30" width="91.75" height="91.40" fill="#fff" stroke="#6e6e6e" stroke-width="1.2"/>
<g clip-path="url(#d1)">
<path d="M211.90 277.50 C212.12 274.92 212.78 266.58 213.20 262.00 C213.62 257.42 213.82 256.68 214.40 250.00 C214.98 243.32 215.83 229.53 216.70 221.90 C217.57 214.27 218.68 207.88 219.60 204.20 C220.52 200.52 221.37 199.98 222.20 199.80 C223.03 199.62 223.75 200.17 224.60 203.10 C225.45 206.03 226.30 211.70 227.30 217.40 C228.30 223.10 229.50 231.78 230.60 237.30 C231.70 242.82 232.98 245.92 233.90 250.50 C234.82 255.08 235.52 261.68 236.10 264.80 C236.68 267.92 236.82 268.10 237.40 269.20 C237.98 270.30 238.80 270.02 239.60 271.40 C240.40 272.78 241.77 276.48 242.20 277.50" fill="none" stroke="#1a1a1a" stroke-width="0.95" stroke-linejoin="round"/>
<path d="M203.40 277.50 C203.60 277.28 204.20 276.20 204.60 276.20 C205.00 276.20 205.60 277.28 205.80 277.50" fill="none" stroke="#1a1a1a" stroke-width="0.95"/>
</g>
<line x1="173.0" y1="260.5" x2="213.4" y2="260.5" stroke="#e2404a" stroke-width="0.85" stroke-dasharray="1.6 1.5" opacity="0.7"/>
<text transform="translate(175.8 271.8) scale(1.04 1)" class="t" style="font-size:12.9px;stroke-width:0.25px">T<tspan dy="1.9" dx="-0.1" font-size="8.4">A</tspan></text>
<path d="M210.0 186.8v0.9M210.0 277.2v-0.9" stroke="#6e6e6e" stroke-width="0.8"/>
<path d="M247.4 186.8v0.9M247.4 277.2v-0.9" stroke="#6e6e6e" stroke-width="0.8"/>
<path d="M173.5 252.3h0.9M264.2 252.3h-0.9" stroke="#6e6e6e" stroke-width="0.8"/>
<text transform="translate(147.8 191.1) scale(0.905 1)" class="t">10<tspan dy="-8.5" dx="0.3" font-size="8.5">0</tspan></text>
<text transform="translate(147.4 256.3) scale(0.905 1)" class="t">10<tspan dy="-6.9" dx="0.5" font-size="8.5">-5</tspan></text>
<text transform="translate(210.6 295.0) scale(0.905 1)" class="t m">100</text>
<text transform="translate(247.7 295.0) scale(0.905 1)" class="t m">200</text>
<rect x="311.70" y="186.30" width="91.75" height="91.40" fill="#fff" stroke="#6e6e6e" stroke-width="1.2"/>
<g clip-path="url(#d2)">
<path d="M350.50 277.50 C350.75 273.73 351.37 261.98 352.00 254.90 C352.63 247.82 353.55 239.52 354.30 235.00 C355.05 230.48 355.85 229.25 356.50 227.80 C357.15 226.35 357.62 226.00 358.20 226.30 C358.78 226.60 359.37 226.48 360.00 229.60 C360.63 232.72 361.40 244.82 362.00 245.00 C362.60 245.18 362.98 233.82 363.60 230.70 C364.22 227.58 364.98 226.97 365.70 226.30 C366.42 225.63 367.05 225.60 367.90 226.70 C368.75 227.80 369.88 229.67 370.80 232.90 C371.72 236.13 372.57 241.52 373.40 246.10 C374.23 250.68 375.03 257.47 375.80 260.40 C376.57 263.33 377.23 262.52 378.00 263.70 C378.77 264.88 379.58 265.20 380.40 267.50 C381.22 269.80 382.48 275.83 382.90 277.50" fill="none" stroke="#1a1a1a" stroke-width="0.95" stroke-linejoin="round"/>
<path d="M337.70 277.50 C338.12 276.50 339.28 272.88 340.20 271.50 C341.12 270.12 342.27 269.20 343.20 269.20 C344.13 269.20 345.07 270.12 345.80 271.50 C346.53 272.88 347.30 276.50 347.60 277.50" fill="none" stroke="#1a1a1a" stroke-width="0.95"/>
</g>
<line x1="311.7" y1="260.5" x2="403.4" y2="260.5" stroke="#e2404a" stroke-width="0.85" stroke-dasharray="1.6 1.5" opacity="0.7"/>
<text transform="translate(315.2 271.5) scale(1.04 1)" class="t" style="font-size:12.9px;stroke-width:0.25px">T<tspan dy="1.9" dx="-0.1" font-size="8.4">A</tspan></text>
<path d="M348.7 186.8v0.9M348.7 277.2v-0.9" stroke="#6e6e6e" stroke-width="0.8"/>
<path d="M386.1 186.8v0.9M386.1 277.2v-0.9" stroke="#6e6e6e" stroke-width="0.8"/>
<path d="M312.2 252.3h0.9M402.9 252.3h-0.9" stroke="#6e6e6e" stroke-width="0.8"/>
<text transform="translate(286.4 191.1) scale(0.905 1)" class="t">10<tspan dy="-8.5" dx="0.3" font-size="8.5">0</tspan></text>
<text transform="translate(286.1 256.3) scale(0.905 1)" class="t">10<tspan dy="-6.9" dx="0.5" font-size="8.5">-5</tspan></text>
<text transform="translate(349.3 295.0) scale(0.905 1)" class="t m">100</text>
<text transform="translate(386.4 295.0) scale(0.905 1)" class="t m">200</text>
<rect x="450.30" y="186.30" width="91.75" height="91.40" fill="#fff" stroke="#6e6e6e" stroke-width="1.2"/>
<g clip-path="url(#d3)">
<path d="M489.30 277.50 C489.58 274.10 490.42 263.07 491.00 257.10 C491.58 251.13 492.13 245.28 492.80 241.70 C493.47 238.12 494.33 236.78 495.00 235.60 C495.67 234.42 496.22 234.13 496.80 234.60 C497.38 235.07 497.88 235.38 498.50 238.40 C499.12 241.42 499.92 252.70 500.50 252.70 C501.08 252.70 501.37 241.48 502.00 238.40 C502.63 235.32 503.63 234.93 504.30 234.20 C504.97 233.47 505.27 233.12 506.00 234.00 C506.73 234.88 507.82 236.75 508.70 239.50 C509.58 242.25 510.58 247.02 511.30 250.50 C512.02 253.98 512.52 257.65 513.00 260.40 C513.48 263.15 513.60 265.37 514.20 267.00 C514.80 268.63 515.68 268.45 516.60 270.20 C517.52 271.95 519.18 276.28 519.70 277.50" fill="none" stroke="#1a1a1a" stroke-width="0.95" stroke-linejoin="round"/>
<path d="M480.60 277.50 C480.80 277.28 481.40 276.20 481.80 276.20 C482.20 276.20 482.80 277.28 483.00 277.50" fill="none" stroke="#1a1a1a" stroke-width="0.95"/>
</g>
<line x1="450.3" y1="260.5" x2="542.0" y2="260.5" stroke="#e2404a" stroke-width="0.85" stroke-dasharray="1.6 1.5" opacity="0.7"/>
<text transform="translate(452.8 271.5) scale(1.04 1)" class="t" style="font-size:12.9px;stroke-width:0.25px">T<tspan dy="1.9" dx="-0.1" font-size="8.4">A</tspan></text>
<path d="M487.3 186.8v0.9M487.3 277.2v-0.9" stroke="#6e6e6e" stroke-width="0.8"/>
<path d="M524.7 186.8v0.9M524.7 277.2v-0.9" stroke="#6e6e6e" stroke-width="0.8"/>
<path d="M450.8 252.3h0.9M541.5 252.3h-0.9" stroke="#6e6e6e" stroke-width="0.8"/>
<text transform="translate(425.1 191.1) scale(0.905 1)" class="t">10<tspan dy="-8.5" dx="0.3" font-size="8.5">0</tspan></text>
<text transform="translate(424.7 256.3) scale(0.905 1)" class="t">10<tspan dy="-6.9" dx="0.5" font-size="8.5">-5</tspan></text>
<text transform="translate(487.9 295.0) scale(0.905 1)" class="t m">100</text>
<text transform="translate(525.0 295.0) scale(0.905 1)" class="t m">200</text>
<rect x="589.30" y="186.30" width="91.75" height="91.40" fill="#fff" stroke="#6e6e6e" stroke-width="1.2"/>
<g clip-path="url(#d4)">
<path d="M595.20 217.20 C595.32 215.87 595.53 211.63 595.90 209.20 C596.27 206.77 596.78 204.43 597.40 202.60 C598.02 200.77 598.75 199.17 599.60 198.20 C600.45 197.23 601.03 196.98 602.50 196.80 C603.97 196.62 606.45 197.17 608.40 197.10 C610.35 197.03 612.50 196.77 614.20 196.40 C615.90 196.03 617.13 195.27 618.60 194.90 C620.07 194.53 621.30 194.30 623.00 194.20 C624.70 194.10 627.23 194.60 628.80 194.30 C630.37 194.00 631.30 192.97 632.40 192.40 C633.50 191.83 634.42 191.15 635.40 190.90 C636.38 190.65 637.22 190.65 638.30 190.90 C639.38 191.15 640.57 191.90 641.90 192.40 C643.23 192.90 644.83 193.33 646.30 193.90 C647.77 194.47 649.23 195.08 650.70 195.80 C652.17 196.52 653.63 197.55 655.10 198.20 C656.57 198.85 658.28 199.45 659.50 199.70 C660.72 199.95 661.32 200.02 662.40 199.70 C663.48 199.38 664.78 198.40 666.00 197.80 C667.22 197.20 668.12 196.57 669.70 196.10 C671.28 195.63 673.52 195.37 675.50 195.00 C677.48 194.63 680.58 194.08 681.60 193.90" fill="none" stroke="#1a1a1a" stroke-width="0.95" stroke-linejoin="round"/>
</g>
<line x1="589.3" y1="196.1" x2="681.0" y2="196.1" stroke="#e2404a" stroke-width="0.85" stroke-dasharray="1.6 1.5" opacity="0.7"/>
<text transform="translate(590.6 195.5) scale(1.0 1)" class="t" style="font-size:13.6px;stroke-width:0.25px">T<tspan dy="1.4" dx="-0.1" font-size="8.4">C</tspan></text>
<path d="M626.3 186.8v0.9M626.3 277.2v-0.9" stroke="#6e6e6e" stroke-width="0.8"/>
<path d="M663.7 186.8v0.9M663.7 277.2v-0.9" stroke="#6e6e6e" stroke-width="0.8"/>
<path d="M589.8 256.7h0.9M680.5 256.7h-0.9" stroke="#6e6e6e" stroke-width="0.8"/>
<text transform="translate(563.9 197.1) scale(0.905 1)" class="t">10<tspan dy="-8.5" dx="0.3" font-size="8.5">0</tspan></text>
<text transform="translate(562.2 258.5) scale(0.905 1)" class="t">10<tspan dy="-4.0" dx="0.8" font-size="8.3">-5</tspan></text>
<text transform="translate(626.9 295.0) scale(0.905 1)" class="t m">100</text>
<text transform="translate(664.0 295.0) scale(0.905 1)" class="t m">200</text>
<rect x="33.80" y="318.50" width="91.90" height="90.80" fill="#fff" stroke="#6e6e6e" stroke-width="1.2"/>
<path d="M70.8 319.0v0.9M70.8 408.8v-0.9" stroke="#6e6e6e" stroke-width="0.8"/>
<path d="M108.2 319.0v0.9M108.2 408.8v-0.9" stroke="#6e6e6e" stroke-width="0.8"/>
<path d="M34.3 348.8h0.9M125.2 348.8h-0.9" stroke="#6e6e6e" stroke-width="0.8"/>
<path d="M34.3 379.0h0.9M125.2 379.0h-0.9" stroke="#6e6e6e" stroke-width="0.8"/>
<text transform="translate(28.3 323.7) scale(0.905 1)" class="t e">1.5</text>
<text transform="translate(28.3 354.0) scale(0.905 1)" class="t e">1</text>
<text transform="translate(28.3 384.2) scale(0.905 1)" class="t e">0.5</text>
<text transform="translate(28.3 414.5) scale(0.905 1)" class="t e">0</text>
<text transform="translate(70.9 427.0) scale(0.905 1)" class="t m">100</text>
<text transform="translate(108.0 427.0) scale(0.905 1)" class="t m">200</text>
<rect x="173.50" y="318.50" width="91.90" height="90.80" fill="#fff" stroke="#6e6e6e" stroke-width="1.2"/>
<path d="M210.5 319.0v0.9M210.5 408.8v-0.9" stroke="#6e6e6e" stroke-width="0.8"/>
<path d="M247.9 319.0v0.9M247.9 408.8v-0.9" stroke="#6e6e6e" stroke-width="0.8"/>
<path d="M174.0 348.8h0.9M264.9 348.8h-0.9" stroke="#6e6e6e" stroke-width="0.8"/>
<path d="M174.0 379.0h0.9M264.9 379.0h-0.9" stroke="#6e6e6e" stroke-width="0.8"/>
<text transform="translate(168.0 323.7) scale(0.905 1)" class="t e">1.5</text>
<text transform="translate(168.0 354.0) scale(0.905 1)" class="t e">1</text>
<text transform="translate(168.0 384.2) scale(0.905 1)" class="t e">0.5</text>
<text transform="translate(168.0 414.5) scale(0.905 1)" class="t e">0</text>
<text transform="translate(210.6 427.0) scale(0.905 1)" class="t m">100</text>
<text transform="translate(247.7 427.0) scale(0.905 1)" class="t m">200</text>
<rect x="312.20" y="318.50" width="91.90" height="90.80" fill="#fff" stroke="#6e6e6e" stroke-width="1.2"/>
<path d="M349.2 319.0v0.9M349.2 408.8v-0.9" stroke="#6e6e6e" stroke-width="0.8"/>
<path d="M386.6 319.0v0.9M386.6 408.8v-0.9" stroke="#6e6e6e" stroke-width="0.8"/>
<path d="M312.7 348.8h0.9M403.6 348.8h-0.9" stroke="#6e6e6e" stroke-width="0.8"/>
<path d="M312.7 379.0h0.9M403.6 379.0h-0.9" stroke="#6e6e6e" stroke-width="0.8"/>
<text transform="translate(306.7 323.7) scale(0.905 1)" class="t e">1.5</text>
<text transform="translate(306.7 354.0) scale(0.905 1)" class="t e">1</text>
<text transform="translate(306.7 384.2) scale(0.905 1)" class="t e">0.5</text>
<text transform="translate(306.7 414.5) scale(0.905 1)" class="t e">0</text>
<text transform="translate(349.3 427.0) scale(0.905 1)" class="t m">100</text>
<text transform="translate(386.4 427.0) scale(0.905 1)" class="t m">200</text>
<rect x="450.80" y="318.50" width="91.90" height="90.80" fill="#fff" stroke="#6e6e6e" stroke-width="1.2"/>
<path d="M487.8 319.0v0.9M487.8 408.8v-0.9" stroke="#6e6e6e" stroke-width="0.8"/>
<path d="M525.2 319.0v0.9M525.2 408.8v-0.9" stroke="#6e6e6e" stroke-width="0.8"/>
<path d="M451.3 348.8h0.9M542.2 348.8h-0.9" stroke="#6e6e6e" stroke-width="0.8"/>
<path d="M451.3 379.0h0.9M542.2 379.0h-0.9" stroke="#6e6e6e" stroke-width="0.8"/>
<text transform="translate(445.3 323.7) scale(0.905 1)" class="t e">1.5</text>
<text transform="translate(445.3 354.0) scale(0.905 1)" class="t e">1</text>
<text transform="translate(445.3 384.2) scale(0.905 1)" class="t e">0.5</text>
<text transform="translate(445.3 414.5) scale(0.905 1)" class="t e">0</text>
<text transform="translate(487.9 427.0) scale(0.905 1)" class="t m">100</text>
<text transform="translate(525.0 427.0) scale(0.905 1)" class="t m">200</text>
<rect x="589.80" y="318.50" width="91.90" height="90.80" fill="#fff" stroke="#6e6e6e" stroke-width="1.2"/>
<path d="M626.8 319.0v0.9M626.8 408.8v-0.9" stroke="#6e6e6e" stroke-width="0.8"/>
<path d="M664.2 319.0v0.9M664.2 408.8v-0.9" stroke="#6e6e6e" stroke-width="0.8"/>
<path d="M590.3 348.8h0.9M681.2 348.8h-0.9" stroke="#6e6e6e" stroke-width="0.8"/>
<path d="M590.3 379.0h0.9M681.2 379.0h-0.9" stroke="#6e6e6e" stroke-width="0.8"/>
<text transform="translate(584.3 323.7) scale(0.905 1)" class="t e">1.5</text>
<text transform="translate(584.3 354.0) scale(0.905 1)" class="t e">1</text>
<text transform="translate(584.3 384.2) scale(0.905 1)" class="t e">0.5</text>
<text transform="translate(584.3 414.5) scale(0.905 1)" class="t e">0</text>
<text transform="translate(626.9 427.0) scale(0.905 1)" class="t m">100</text>
<text transform="translate(664.0 427.0) scale(0.905 1)" class="t m">200</text>
<path d="M73.30 409.60 C73.50 408.07 73.90 404.58 74.50 400.40 C75.10 396.22 76.18 390.45 76.90 384.50 C77.62 378.55 78.22 371.28 78.80 364.70 C79.38 358.12 79.90 349.72 80.40 345.00 C80.90 340.28 81.37 337.40 81.80 336.40 C82.23 335.40 82.67 337.60 83.00 339.00 C83.33 340.40 83.23 340.52 83.80 344.80 C84.37 349.08 85.50 358.08 86.40 364.70 C87.30 371.32 88.53 379.55 89.20 384.50 C89.87 389.45 89.82 391.75 90.40 394.40 C90.98 397.05 91.88 398.73 92.70 400.40 C93.52 402.07 94.53 402.87 95.30 404.40 C96.07 405.93 96.97 408.73 97.30 409.60 Z" fill="#000"/>
<path d="M212.30 409.60 C212.50 408.07 212.90 404.58 213.50 400.40 C214.10 396.22 215.10 390.45 215.90 384.50 C216.70 378.55 217.70 369.95 218.30 364.70 C218.90 359.45 219.15 355.72 219.50 353.00 C219.85 350.28 220.12 348.82 220.40 348.40 C220.68 347.98 220.97 349.43 221.20 350.50 C221.43 351.57 221.47 352.43 221.80 354.80 C222.13 357.17 222.53 359.75 223.20 364.70 C223.87 369.65 225.10 379.55 225.80 384.50 C226.50 389.45 226.80 391.92 227.40 394.40 C228.00 396.88 228.62 397.90 229.40 399.40 C230.18 400.90 231.22 401.70 232.10 403.40 C232.98 405.10 234.27 408.57 234.70 409.60 Z" fill="#000"/>
<path d="M351.90 404.20 C352.12 403.15 352.77 399.83 353.20 397.90 C353.63 395.97 354.07 393.92 354.50 392.60 C354.93 391.28 355.35 390.52 355.80 390.00 C356.25 389.48 356.80 389.28 357.20 389.50 C357.60 389.72 357.83 390.20 358.20 391.30 C358.57 392.40 358.92 394.42 359.40 396.10 C359.88 397.78 360.60 401.25 361.10 401.40 C361.60 401.55 361.95 398.62 362.40 397.00 C362.85 395.38 363.35 393.02 363.80 391.70 C364.25 390.38 364.67 389.57 365.10 389.10 C365.53 388.63 365.88 388.62 366.40 388.90 C366.92 389.18 367.62 389.97 368.20 390.80 C368.78 391.63 369.32 392.72 369.90 393.90 C370.48 395.08 371.10 396.50 371.70 397.90 C372.30 399.30 372.92 401.20 373.50 402.30 C374.08 403.40 374.65 403.92 375.20 404.50 C375.75 405.08 376.53 405.58 376.80 405.80 L376.8 409.6 L351.9 409.6 Z" fill="#000"/>
<path d="M490.70 404.90 C490.90 404.32 491.48 402.65 491.90 401.40 C492.32 400.15 492.77 398.43 493.20 397.40 C493.63 396.37 494.08 395.58 494.50 395.20 C494.92 394.82 495.30 394.80 495.70 395.10 C496.10 395.40 496.52 396.10 496.90 397.00 C497.28 397.90 497.58 399.45 498.00 400.50 C498.42 401.55 498.95 403.30 499.40 403.30 C499.85 403.30 500.27 401.62 500.70 400.50 C501.13 399.38 501.57 397.60 502.00 396.60 C502.43 395.60 502.87 394.87 503.30 394.50 C503.73 394.13 504.08 394.13 504.60 394.40 C505.12 394.67 505.80 395.37 506.40 396.10 C507.00 396.83 507.62 397.85 508.20 398.80 C508.78 399.75 509.32 400.85 509.90 401.80 C510.48 402.75 511.18 403.90 511.70 404.50 C512.22 405.10 512.78 405.25 513.00 405.40 L513.0 409.6 L490.7 409.6 Z" fill="#000"/>
<path d="M40.10 409.50 C40.63 409.35 42.22 408.92 43.30 408.60 C44.38 408.28 45.32 407.65 46.60 407.60 C47.88 407.55 49.13 408.37 51.00 408.30 C52.87 408.23 55.48 407.60 57.80 407.20 C60.12 406.80 62.87 405.80 64.90 405.90 C66.93 406.00 68.42 407.68 70.00 407.80 C71.58 407.92 73.67 406.80 74.40 406.60" fill="none" stroke="#3434ac" stroke-width="0.85" opacity="0.9"/>
<path d="M98.50 406.00 C99.10 406.05 100.77 405.90 102.10 406.30 C103.43 406.70 105.22 408.10 106.50 408.40 C107.78 408.70 108.58 408.28 109.80 408.10 C111.02 407.92 112.13 407.32 113.80 407.30 C115.47 407.28 117.73 407.82 119.80 408.00 C121.87 408.18 125.13 408.33 126.20 408.40" fill="none" stroke="#3434ac" stroke-width="0.85" opacity="0.9"/>
<path d="M179.80 409.50 C180.33 409.35 181.92 408.92 183.00 408.60 C184.08 408.28 185.02 407.65 186.30 407.60 C187.58 407.55 188.83 408.37 190.70 408.30 C192.57 408.23 195.18 407.60 197.50 407.20 C199.82 406.80 202.57 405.80 204.60 405.90 C206.63 406.00 208.12 407.68 209.70 407.80 C211.28 407.92 213.37 406.80 214.10 406.60" fill="none" stroke="#3434ac" stroke-width="0.85" opacity="0.9"/>
<path d="M236.70 406.52 C237.30 406.57 238.97 406.44 240.30 406.78 C241.63 407.12 243.42 408.31 244.70 408.56 C245.98 408.82 246.78 408.47 248.00 408.31 C249.22 408.15 250.33 407.64 252.00 407.63 C253.67 407.62 255.93 408.07 258.00 408.23 C260.07 408.38 263.33 408.51 264.40 408.56" fill="none" stroke="#3434ac" stroke-width="0.85" opacity="0.9"/>
<path d="M318.50 409.50 C319.03 409.35 320.62 408.92 321.70 408.60 C322.78 408.28 323.72 407.65 325.00 407.60 C326.28 407.55 327.53 408.37 329.40 408.30 C331.27 408.23 333.88 407.60 336.20 407.20 C338.52 406.80 341.27 405.80 343.30 405.90 C345.33 406.00 346.82 407.68 348.40 407.80 C349.98 407.92 352.07 406.80 352.80 406.60" fill="none" stroke="#3434ac" stroke-width="0.85" opacity="0.9"/>
<path d="M375.90 405.48 C376.50 405.53 378.17 405.36 379.50 405.82 C380.83 406.28 382.62 407.89 383.90 408.23 C385.18 408.58 385.98 408.10 387.20 407.89 C388.42 407.68 389.53 406.99 391.20 406.97 C392.87 406.95 395.13 407.56 397.20 407.77 C399.27 407.99 402.53 408.16 403.60 408.23" fill="none" stroke="#3434ac" stroke-width="0.85" opacity="0.9"/>
<path d="M457.10 409.50 C457.63 409.35 459.22 408.92 460.30 408.60 C461.38 408.28 462.32 407.65 463.60 407.60 C464.88 407.55 466.13 408.37 468.00 408.30 C469.87 408.23 472.48 407.60 474.80 407.20 C477.12 406.80 479.87 405.80 481.90 405.90 C483.93 406.00 485.42 407.68 487.00 407.80 C488.58 407.92 490.67 406.80 491.40 406.60" fill="none" stroke="#3434ac" stroke-width="0.85" opacity="0.9"/>
<path d="M511.50 406.70 C512.10 406.74 513.77 406.62 515.10 406.94 C516.43 407.26 518.22 408.38 519.50 408.62 C520.78 408.86 521.58 408.53 522.80 408.38 C524.02 408.23 525.13 407.75 526.80 407.74 C528.47 407.73 530.73 408.15 532.80 408.30 C534.87 408.45 538.13 408.57 539.20 408.62" fill="none" stroke="#3434ac" stroke-width="0.85" opacity="0.9"/>
<path d="M616.90 378.90 C617.27 377.62 618.37 373.22 619.10 371.20 C619.83 369.18 620.45 367.80 621.30 366.80 C622.15 365.80 623.27 365.20 624.20 365.20 C625.13 365.20 625.90 365.98 626.90 366.80 C627.90 367.62 629.40 370.83 630.20 370.10 C631.00 369.37 631.08 366.08 631.70 362.40 C632.32 358.72 633.23 351.87 633.90 348.00 C634.57 344.13 635.15 341.13 635.70 339.20 C636.25 337.27 636.65 336.40 637.20 336.40 C637.75 336.40 638.33 337.27 639.00 339.20 C639.67 341.13 640.47 345.05 641.20 348.00 C641.93 350.95 642.67 354.32 643.40 356.90 C644.13 359.48 644.87 361.75 645.60 363.50 C646.33 365.25 647.07 365.93 647.80 367.40 C648.53 368.87 649.35 370.38 650.00 372.30 C650.65 374.22 651.42 377.80 651.70 378.90 L651.7 409.5 L616.9 409.5 Z" fill="#000"/>
<path d="M669.80 378.90 C670.35 378.35 672.00 376.63 673.10 375.60 C674.20 374.57 675.37 373.98 676.40 372.70 C677.43 371.42 678.37 369.85 679.30 367.90 C680.23 365.95 681.55 362.15 682.00 361.00 L682.0 409.5 L669.8 409.5 Z" fill="#000" clip-path="url(#e4)"/>
<path d="M595.40 409.50 C595.68 408.07 596.45 403.80 597.10 400.90 C597.75 398.00 598.57 394.48 599.30 392.10 C600.03 389.72 600.58 387.88 601.50 386.60 C602.42 385.32 603.70 384.70 604.80 384.40 C605.90 384.10 607.00 384.70 608.10 384.80 C609.20 384.90 610.30 385.43 611.40 385.00 C612.50 384.57 613.78 383.22 614.70 382.20 C615.62 381.18 616.53 379.45 616.90 378.90" fill="none" stroke="#3434ac" stroke-width="0.85" opacity="0.9"/>
<path d="M651.70 378.90 C652.15 380.00 653.40 383.60 654.40 385.50 C655.40 387.40 656.60 389.13 657.70 390.30 C658.80 391.47 659.90 392.57 661.00 392.50 C662.10 392.43 663.32 391.25 664.30 389.90 C665.28 388.55 665.98 386.23 666.90 384.40 C667.82 382.57 669.32 379.82 669.80 378.90" fill="none" stroke="#3434ac" stroke-width="0.85" opacity="0.9"/>
</svg>
</body></html>
